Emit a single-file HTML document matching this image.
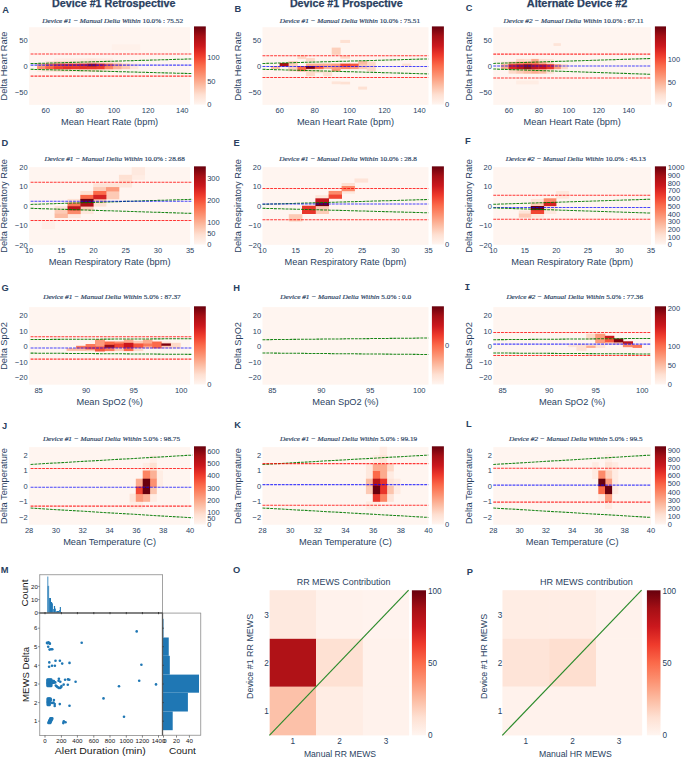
<!DOCTYPE html>
<html><head><meta charset="utf-8"><style>
html,body{margin:0;padding:0;background:#fff;}
svg{display:block;}
</style></head><body>
<svg width="685" height="758" viewBox="0 0 685 758">
<rect x="0.00" y="0.00" width="685.00" height="758.00" fill="#ffffff"/>
<defs><filter id="soft" x="-5%" y="-5%" width="110%" height="110%"><feGaussianBlur stdDeviation="0.35"/></filter></defs>
<text x="113.80" y="6.90" font-size="10.00" text-anchor="middle" font-weight="bold" font-style="normal" fill="#2a3f5f" font-family='"Liberation Sans", sans-serif' textLength="123.40" lengthAdjust="spacingAndGlyphs" stroke="#2a3f5f" stroke-width="0.25">Device #1 Retrospective</text>
<text x="346.30" y="6.90" font-size="10.00" text-anchor="middle" font-weight="bold" font-style="normal" fill="#2a3f5f" font-family='"Liberation Sans", sans-serif' textLength="112.80" lengthAdjust="spacingAndGlyphs" stroke="#2a3f5f" stroke-width="0.25">Device #1 Prospective</text>
<text x="577.10" y="6.90" font-size="10.00" text-anchor="middle" font-weight="bold" font-style="normal" fill="#2a3f5f" font-family='"Liberation Sans", sans-serif' textLength="100.50" lengthAdjust="spacingAndGlyphs" stroke="#2a3f5f" stroke-width="0.25">Alternate Device #2</text>
<text x="2.20" y="12.60" font-size="9.30" text-anchor="start" font-weight="bold" font-style="normal" fill="#2a3f5f" font-family='"Liberation Sans", sans-serif'>A</text>
<text x="42.30" y="23.00" font-size="7.10" text-anchor="start" font-weight="normal" font-style="normal" fill="#2a3f5f" font-family='"Liberation Serif", serif' textLength="140.70" lengthAdjust="spacingAndGlyphs" stroke="#2a3f5f" stroke-width="0.18"><tspan font-style="italic">Device #1 − Manual Delta Within</tspan> 10.0% : 75.52</text>
<rect x="29.10" y="27.20" width="161.00" height="77.70" fill="rgb(255,245,240)"/>
<g filter="url(#soft)">
<rect x="111.80" y="44.30" width="28.40" height="5.90" fill="rgb(255,241,234)"/>
<rect x="53.90" y="58.40" width="8.80" height="3.00" fill="rgb(255,238,230)"/>
<rect x="62.30" y="58.40" width="8.80" height="3.00" fill="rgb(255,237,228)"/>
<rect x="70.70" y="58.40" width="8.80" height="3.00" fill="rgb(255,237,228)"/>
<rect x="104.30" y="58.40" width="8.80" height="3.00" fill="rgb(255,237,228)"/>
<rect x="112.70" y="68.80" width="8.80" height="3.00" fill="rgb(255,237,228)"/>
<rect x="37.10" y="68.80" width="8.80" height="3.00" fill="rgb(255,235,226)"/>
<rect x="79.10" y="58.40" width="8.80" height="3.00" fill="rgb(255,235,226)"/>
<rect x="95.90" y="58.40" width="8.80" height="3.00" fill="rgb(255,235,226)"/>
<rect x="87.50" y="58.40" width="8.80" height="3.00" fill="rgb(254,232,221)"/>
<rect x="104.30" y="68.80" width="8.80" height="3.00" fill="rgb(254,232,221)"/>
<rect x="112.70" y="61.00" width="8.80" height="3.00" fill="rgb(254,232,221)"/>
<rect x="129.50" y="63.60" width="8.80" height="3.00" fill="rgb(254,232,221)"/>
<rect x="129.50" y="66.20" width="8.80" height="3.00" fill="rgb(254,232,221)"/>
<rect x="45.50" y="61.00" width="8.80" height="3.00" fill="rgb(254,228,216)"/>
<rect x="45.50" y="68.80" width="8.80" height="3.00" fill="rgb(254,228,216)"/>
<rect x="70.70" y="61.00" width="8.80" height="3.00" fill="rgb(254,225,211)"/>
<rect x="70.70" y="68.80" width="8.80" height="3.00" fill="rgb(254,225,211)"/>
<rect x="95.90" y="68.80" width="8.80" height="3.00" fill="rgb(254,225,211)"/>
<rect x="104.30" y="61.00" width="8.80" height="3.00" fill="rgb(254,225,211)"/>
<rect x="53.90" y="68.80" width="8.80" height="3.00" fill="rgb(254,220,204)"/>
<rect x="62.30" y="68.80" width="8.80" height="3.00" fill="rgb(254,220,204)"/>
<rect x="79.10" y="68.80" width="8.80" height="3.00" fill="rgb(254,220,204)"/>
<rect x="53.90" y="61.00" width="8.80" height="3.00" fill="rgb(254,217,200)"/>
<rect x="62.30" y="61.00" width="8.80" height="3.00" fill="rgb(254,217,200)"/>
<rect x="79.10" y="61.00" width="8.80" height="3.00" fill="rgb(254,217,200)"/>
<rect x="95.90" y="61.00" width="8.80" height="3.00" fill="rgb(254,217,200)"/>
<rect x="87.50" y="68.80" width="8.80" height="3.00" fill="rgb(253,214,196)"/>
<rect x="87.50" y="61.00" width="8.80" height="3.00" fill="rgb(253,202,181)"/>
<rect x="121.10" y="63.60" width="8.80" height="3.00" fill="rgb(253,202,181)"/>
<rect x="121.10" y="66.20" width="8.80" height="3.00" fill="rgb(253,202,181)"/>
<rect x="112.70" y="66.20" width="8.80" height="3.00" fill="rgb(252,177,150)"/>
<rect x="37.10" y="63.60" width="8.80" height="3.00" fill="rgb(252,171,142)"/>
<rect x="112.70" y="63.60" width="8.80" height="3.00" fill="rgb(252,164,135)"/>
<rect x="37.10" y="66.20" width="8.80" height="3.00" fill="rgb(252,144,112)"/>
<rect x="104.30" y="66.20" width="8.80" height="3.00" fill="rgb(252,132,100)"/>
<rect x="45.50" y="63.60" width="8.80" height="3.00" fill="rgb(251,106,74)"/>
<rect x="104.30" y="63.60" width="8.80" height="3.00" fill="rgb(251,106,74)"/>
<rect x="45.50" y="66.20" width="8.80" height="3.00" fill="rgb(249,98,69)"/>
<rect x="53.90" y="63.60" width="8.80" height="3.00" fill="rgb(241,68,50)"/>
<rect x="53.90" y="66.20" width="8.80" height="3.00" fill="rgb(239,61,45)"/>
<rect x="95.90" y="66.20" width="8.80" height="3.00" fill="rgb(239,61,45)"/>
<rect x="70.70" y="66.20" width="8.80" height="3.00" fill="rgb(235,55,42)"/>
<rect x="87.50" y="66.20" width="8.80" height="3.00" fill="rgb(235,55,42)"/>
<rect x="62.30" y="63.60" width="8.80" height="3.00" fill="rgb(232,52,41)"/>
<rect x="62.30" y="66.20" width="8.80" height="3.00" fill="rgb(229,49,40)"/>
<rect x="70.70" y="63.60" width="8.80" height="3.00" fill="rgb(229,49,40)"/>
<rect x="79.10" y="66.20" width="8.80" height="3.00" fill="rgb(229,49,40)"/>
<rect x="79.10" y="63.60" width="8.80" height="3.00" fill="rgb(217,38,35)"/>
<rect x="95.90" y="63.60" width="8.80" height="3.00" fill="rgb(217,38,35)"/>
<rect x="87.50" y="63.60" width="8.80" height="3.00" fill="rgb(163,14,21)"/>
</g>
<line x1="30.60" y1="54.00" x2="192.30" y2="54.00" stroke="#ff0000" stroke-width="1.05" stroke-dasharray="2.9,0.95" stroke-opacity="0.78"/>
<line x1="30.60" y1="63.60" x2="192.30" y2="58.90" stroke="#007a00" stroke-width="1.05" stroke-dasharray="2.9,0.95" stroke-opacity="0.90"/>
<line x1="30.60" y1="65.10" x2="192.30" y2="65.10" stroke="#0000ff" stroke-width="1.05" stroke-dasharray="2.9,0.95" stroke-opacity="0.72"/>
<line x1="30.60" y1="69.30" x2="192.30" y2="73.60" stroke="#007a00" stroke-width="1.05" stroke-dasharray="2.9,0.95" stroke-opacity="0.90"/>
<line x1="30.60" y1="76.10" x2="192.30" y2="76.10" stroke="#ff0000" stroke-width="1.05" stroke-dasharray="2.9,0.95" stroke-opacity="0.78"/>
<defs><linearGradient id="g00" x1="0" y1="1" x2="0" y2="0"><stop offset="0.000" stop-color="rgb(255,245,240)"/><stop offset="0.125" stop-color="rgb(254,224,210)"/><stop offset="0.250" stop-color="rgb(252,187,161)"/><stop offset="0.375" stop-color="rgb(252,146,114)"/><stop offset="0.500" stop-color="rgb(251,106,74)"/><stop offset="0.625" stop-color="rgb(239,59,44)"/><stop offset="0.750" stop-color="rgb(203,24,29)"/><stop offset="0.875" stop-color="rgb(165,15,21)"/><stop offset="1.000" stop-color="rgb(103,0,13)"/></linearGradient></defs>
<rect x="194.00" y="26.40" width="11.80" height="78.25" fill="url(#g00)"/>
<text x="207.20" y="60.03" font-size="8.10" text-anchor="start" font-weight="normal" font-style="normal" fill="#2a3f5f" font-family='"Liberation Sans", sans-serif' textLength="12.51" lengthAdjust="spacingAndGlyphs">100</text>
<text x="207.20" y="83.74" font-size="8.10" text-anchor="start" font-weight="normal" font-style="normal" fill="#2a3f5f" font-family='"Liberation Sans", sans-serif' textLength="8.34" lengthAdjust="spacingAndGlyphs">50</text>
<text x="207.20" y="107.45" font-size="8.10" text-anchor="start" font-weight="normal" font-style="normal" fill="#2a3f5f" font-family='"Liberation Sans", sans-serif' textLength="4.17" lengthAdjust="spacingAndGlyphs">0</text>
<text x="45.66" y="112.90" font-size="8.10" text-anchor="middle" font-weight="normal" font-style="normal" fill="#2a3f5f" font-family='"Liberation Sans", sans-serif' textLength="8.34" lengthAdjust="spacingAndGlyphs">60</text>
<text x="79.81" y="112.90" font-size="8.10" text-anchor="middle" font-weight="normal" font-style="normal" fill="#2a3f5f" font-family='"Liberation Sans", sans-serif' textLength="8.34" lengthAdjust="spacingAndGlyphs">80</text>
<text x="113.95" y="112.90" font-size="8.10" text-anchor="middle" font-weight="normal" font-style="normal" fill="#2a3f5f" font-family='"Liberation Sans", sans-serif' textLength="12.51" lengthAdjust="spacingAndGlyphs">100</text>
<text x="148.10" y="112.90" font-size="8.10" text-anchor="middle" font-weight="normal" font-style="normal" fill="#2a3f5f" font-family='"Liberation Sans", sans-serif' textLength="12.51" lengthAdjust="spacingAndGlyphs">120</text>
<text x="182.25" y="112.90" font-size="8.10" text-anchor="middle" font-weight="normal" font-style="normal" fill="#2a3f5f" font-family='"Liberation Sans", sans-serif' textLength="12.51" lengthAdjust="spacingAndGlyphs">140</text>
<text x="27.70" y="43.37" font-size="8.10" text-anchor="end" font-weight="normal" font-style="normal" fill="#2a3f5f" font-family='"Liberation Sans", sans-serif' textLength="8.34" lengthAdjust="spacingAndGlyphs">50</text>
<text x="27.70" y="69.29" font-size="8.10" text-anchor="end" font-weight="normal" font-style="normal" fill="#2a3f5f" font-family='"Liberation Sans", sans-serif' textLength="4.17" lengthAdjust="spacingAndGlyphs">0</text>
<text x="27.70" y="95.21" font-size="8.10" text-anchor="end" font-weight="normal" font-style="normal" fill="#2a3f5f" font-family='"Liberation Sans", sans-serif' textLength="12.72" lengthAdjust="spacingAndGlyphs">−50</text>
<text x="109.60" y="124.70" font-size="9.25" text-anchor="middle" font-weight="normal" font-style="normal" fill="#2a3f5f" font-family='"Liberation Sans", sans-serif'>Mean Heart Rate (bpm)</text>
<text x="0" y="0" transform="translate(7.30,66.05) rotate(-90)" font-size="9.25" text-anchor="middle" font-weight="normal" fill="#2a3f5f" font-family='"Liberation Sans", sans-serif'>Delta Heart Rate</text>
<text x="234.40" y="11.80" font-size="9.30" text-anchor="start" font-weight="bold" font-style="normal" fill="#2a3f5f" font-family='"Liberation Sans", sans-serif'>B</text>
<text x="279.80" y="23.00" font-size="7.10" text-anchor="start" font-weight="normal" font-style="normal" fill="#2a3f5f" font-family='"Liberation Serif", serif' textLength="140.20" lengthAdjust="spacingAndGlyphs" stroke="#2a3f5f" stroke-width="0.18"><tspan font-style="italic">Device #1 − Manual Delta Within</tspan> 10.0% : 75.51</text>
<rect x="262.50" y="27.20" width="166.00" height="77.70" fill="rgb(255,245,240)"/>
<g filter="url(#soft)">
<rect x="331.70" y="81.40" width="9.00" height="2.80" fill="rgb(254,228,216)"/>
<rect x="314.50" y="68.50" width="9.00" height="4.70" fill="rgb(254,225,211)"/>
<rect x="323.10" y="70.90" width="9.00" height="5.30" fill="rgb(254,225,211)"/>
<rect x="340.30" y="39.90" width="9.80" height="3.10" fill="rgb(254,225,211)"/>
<rect x="340.30" y="81.70" width="9.80" height="2.70" fill="rgb(254,225,211)"/>
<rect x="358.20" y="86.60" width="8.90" height="3.00" fill="rgb(254,225,211)"/>
<rect x="402.20" y="63.60" width="9.00" height="2.40" fill="rgb(254,225,211)"/>
<rect x="297.40" y="55.00" width="8.90" height="4.10" fill="rgb(254,217,200)"/>
<rect x="305.90" y="58.10" width="9.00" height="3.40" fill="rgb(254,217,200)"/>
<rect x="305.90" y="68.50" width="9.00" height="7.70" fill="rgb(254,217,200)"/>
<rect x="340.30" y="55.70" width="9.80" height="3.00" fill="rgb(254,217,200)"/>
<rect x="366.70" y="61.60" width="9.00" height="9.60" fill="rgb(254,217,200)"/>
<rect x="288.20" y="61.10" width="9.60" height="10.20" fill="rgb(253,208,188)"/>
<rect x="331.70" y="47.60" width="9.00" height="7.20" fill="rgb(253,208,188)"/>
<rect x="358.20" y="64.20" width="8.90" height="5.00" fill="rgb(253,202,181)"/>
<rect x="271.00" y="66.00" width="9.00" height="2.90" fill="rgb(252,187,161)"/>
<rect x="358.20" y="61.00" width="8.90" height="3.60" fill="rgb(252,187,161)"/>
<rect x="305.90" y="63.60" width="9.00" height="2.80" fill="rgb(252,171,142)"/>
<rect x="314.50" y="63.60" width="9.00" height="2.80" fill="rgb(252,171,142)"/>
<rect x="323.10" y="63.60" width="9.00" height="5.30" fill="rgb(252,171,142)"/>
<rect x="331.70" y="63.60" width="9.00" height="7.70" fill="rgb(252,154,123)"/>
<rect x="349.70" y="66.20" width="8.90" height="2.90" fill="rgb(252,154,123)"/>
<rect x="340.30" y="66.20" width="9.80" height="2.90" fill="rgb(252,138,106)"/>
<rect x="297.40" y="66.00" width="8.90" height="5.30" fill="rgb(251,106,74)"/>
<rect x="314.50" y="66.00" width="9.00" height="2.90" fill="rgb(246,87,62)"/>
<rect x="349.70" y="63.60" width="8.90" height="3.00" fill="rgb(246,87,62)"/>
<rect x="340.30" y="63.60" width="9.80" height="3.00" fill="rgb(241,68,50)"/>
<rect x="279.60" y="63.00" width="9.00" height="3.40" fill="rgb(173,17,23)"/>
<rect x="305.90" y="66.00" width="9.00" height="2.90" fill="rgb(128,6,16)"/>
</g>
<line x1="262.50" y1="55.70" x2="428.30" y2="55.70" stroke="#ff0000" stroke-width="1.05" stroke-dasharray="2.9,0.95" stroke-opacity="0.78"/>
<line x1="262.50" y1="63.50" x2="428.30" y2="58.90" stroke="#007a00" stroke-width="1.05" stroke-dasharray="2.9,0.95" stroke-opacity="0.90"/>
<line x1="262.50" y1="66.45" x2="428.30" y2="66.45" stroke="#0000ff" stroke-width="1.05" stroke-dasharray="2.9,0.95" stroke-opacity="0.72"/>
<line x1="262.50" y1="69.30" x2="428.30" y2="73.90" stroke="#007a00" stroke-width="1.05" stroke-dasharray="2.9,0.95" stroke-opacity="0.90"/>
<line x1="262.50" y1="77.40" x2="428.30" y2="77.40" stroke="#ff0000" stroke-width="1.05" stroke-dasharray="2.9,0.95" stroke-opacity="0.78"/>
<defs><linearGradient id="g01" x1="0" y1="1" x2="0" y2="0"><stop offset="0.000" stop-color="rgb(255,245,240)"/><stop offset="0.125" stop-color="rgb(254,224,210)"/><stop offset="0.250" stop-color="rgb(252,187,161)"/><stop offset="0.375" stop-color="rgb(252,146,114)"/><stop offset="0.500" stop-color="rgb(251,106,74)"/><stop offset="0.625" stop-color="rgb(239,59,44)"/><stop offset="0.750" stop-color="rgb(203,24,29)"/><stop offset="0.875" stop-color="rgb(165,15,21)"/><stop offset="1.000" stop-color="rgb(103,0,13)"/></linearGradient></defs>
<rect x="431.90" y="26.40" width="12.00" height="78.25" fill="url(#g01)"/>
<text x="444.90" y="107.45" font-size="8.10" text-anchor="start" font-weight="normal" font-style="normal" fill="#2a3f5f" font-family='"Liberation Sans", sans-serif' textLength="4.17" lengthAdjust="spacingAndGlyphs">0</text>
<text x="279.78" y="112.90" font-size="8.10" text-anchor="middle" font-weight="normal" font-style="normal" fill="#2a3f5f" font-family='"Liberation Sans", sans-serif' textLength="8.34" lengthAdjust="spacingAndGlyphs">60</text>
<text x="314.69" y="112.90" font-size="8.10" text-anchor="middle" font-weight="normal" font-style="normal" fill="#2a3f5f" font-family='"Liberation Sans", sans-serif' textLength="8.34" lengthAdjust="spacingAndGlyphs">80</text>
<text x="349.60" y="112.90" font-size="8.10" text-anchor="middle" font-weight="normal" font-style="normal" fill="#2a3f5f" font-family='"Liberation Sans", sans-serif' textLength="12.51" lengthAdjust="spacingAndGlyphs">100</text>
<text x="384.51" y="112.90" font-size="8.10" text-anchor="middle" font-weight="normal" font-style="normal" fill="#2a3f5f" font-family='"Liberation Sans", sans-serif' textLength="12.51" lengthAdjust="spacingAndGlyphs">120</text>
<text x="419.42" y="112.90" font-size="8.10" text-anchor="middle" font-weight="normal" font-style="normal" fill="#2a3f5f" font-family='"Liberation Sans", sans-serif' textLength="12.51" lengthAdjust="spacingAndGlyphs">140</text>
<text x="261.10" y="43.37" font-size="8.10" text-anchor="end" font-weight="normal" font-style="normal" fill="#2a3f5f" font-family='"Liberation Sans", sans-serif' textLength="8.34" lengthAdjust="spacingAndGlyphs">50</text>
<text x="261.10" y="69.29" font-size="8.10" text-anchor="end" font-weight="normal" font-style="normal" fill="#2a3f5f" font-family='"Liberation Sans", sans-serif' textLength="4.17" lengthAdjust="spacingAndGlyphs">0</text>
<text x="261.10" y="95.21" font-size="8.10" text-anchor="end" font-weight="normal" font-style="normal" fill="#2a3f5f" font-family='"Liberation Sans", sans-serif' textLength="12.72" lengthAdjust="spacingAndGlyphs">−50</text>
<text x="345.50" y="124.70" font-size="9.25" text-anchor="middle" font-weight="normal" font-style="normal" fill="#2a3f5f" font-family='"Liberation Sans", sans-serif'>Mean Heart Rate (bpm)</text>
<text x="0" y="0" transform="translate(240.60,66.05) rotate(-90)" font-size="9.25" text-anchor="middle" font-weight="normal" fill="#2a3f5f" font-family='"Liberation Sans", sans-serif'>Delta Heart Rate</text>
<text x="465.80" y="11.00" font-size="9.30" text-anchor="start" font-weight="bold" font-style="normal" fill="#2a3f5f" font-family='"Liberation Sans", sans-serif'>C</text>
<text x="503.60" y="23.00" font-size="7.10" text-anchor="start" font-weight="normal" font-style="normal" fill="#2a3f5f" font-family='"Liberation Serif", serif' textLength="140.10" lengthAdjust="spacingAndGlyphs" stroke="#2a3f5f" stroke-width="0.18"><tspan font-style="italic">Device #2 − Manual Delta Within</tspan> 10.0% : 67.11</text>
<rect x="493.30" y="27.20" width="157.70" height="77.70" fill="rgb(255,245,240)"/>
<g filter="url(#soft)">
<rect x="516.20" y="80.50" width="22.50" height="3.90" fill="rgb(255,237,228)"/>
<rect x="545.90" y="58.90" width="8.00" height="3.30" fill="rgb(254,232,221)"/>
<rect x="538.30" y="58.90" width="8.00" height="3.30" fill="rgb(254,228,216)"/>
<rect x="553.50" y="43.20" width="7.40" height="2.70" fill="rgb(254,228,216)"/>
<rect x="501.00" y="61.80" width="8.00" height="2.80" fill="rgb(254,225,211)"/>
<rect x="523.80" y="58.90" width="7.90" height="3.30" fill="rgb(254,225,211)"/>
<rect x="545.90" y="68.80" width="8.00" height="4.90" fill="rgb(254,225,211)"/>
<rect x="508.60" y="68.80" width="8.00" height="4.90" fill="rgb(254,217,200)"/>
<rect x="516.20" y="58.90" width="8.00" height="3.30" fill="rgb(254,217,200)"/>
<rect x="545.90" y="61.80" width="8.00" height="2.80" fill="rgb(254,217,200)"/>
<rect x="560.50" y="64.20" width="7.40" height="5.00" fill="rgb(254,217,200)"/>
<rect x="516.20" y="68.80" width="8.00" height="4.90" fill="rgb(253,202,181)"/>
<rect x="523.80" y="68.80" width="7.90" height="4.90" fill="rgb(252,187,161)"/>
<rect x="538.30" y="68.80" width="8.00" height="4.90" fill="rgb(252,187,161)"/>
<rect x="501.00" y="64.20" width="8.00" height="5.00" fill="rgb(252,171,142)"/>
<rect x="508.60" y="61.80" width="8.00" height="2.80" fill="rgb(252,171,142)"/>
<rect x="531.30" y="58.90" width="7.40" height="3.30" fill="rgb(252,171,142)"/>
<rect x="531.30" y="68.80" width="7.40" height="4.90" fill="rgb(252,171,142)"/>
<rect x="538.30" y="61.80" width="8.00" height="2.80" fill="rgb(252,171,142)"/>
<rect x="553.50" y="64.20" width="7.40" height="5.00" fill="rgb(252,154,123)"/>
<rect x="516.20" y="61.80" width="8.00" height="2.80" fill="rgb(252,138,106)"/>
<rect x="523.80" y="61.80" width="7.90" height="2.80" fill="rgb(251,122,90)"/>
<rect x="531.30" y="61.80" width="7.40" height="2.80" fill="rgb(251,122,90)"/>
<rect x="545.90" y="64.20" width="8.00" height="5.00" fill="rgb(232,52,41)"/>
<rect x="508.60" y="64.20" width="8.00" height="5.00" fill="rgb(217,38,35)"/>
<rect x="538.30" y="64.20" width="8.00" height="5.00" fill="rgb(203,24,29)"/>
<rect x="531.30" y="64.20" width="7.40" height="5.00" fill="rgb(194,22,27)"/>
<rect x="516.20" y="64.20" width="8.00" height="5.00" fill="rgb(188,20,26)"/>
<rect x="523.80" y="64.20" width="7.90" height="5.00" fill="rgb(143,10,18)"/>
</g>
<line x1="493.30" y1="54.10" x2="651.00" y2="54.10" stroke="#ff0000" stroke-width="1.05" stroke-dasharray="2.9,0.95" stroke-opacity="0.78"/>
<line x1="493.30" y1="63.40" x2="651.00" y2="58.50" stroke="#007a00" stroke-width="1.05" stroke-dasharray="2.9,0.95" stroke-opacity="0.90"/>
<line x1="493.30" y1="66.05" x2="651.00" y2="66.05" stroke="#0000ff" stroke-width="1.05" stroke-dasharray="2.9,0.95" stroke-opacity="0.72"/>
<line x1="493.30" y1="69.00" x2="651.00" y2="74.30" stroke="#007a00" stroke-width="1.05" stroke-dasharray="2.9,0.95" stroke-opacity="0.90"/>
<line x1="493.30" y1="78.00" x2="651.00" y2="78.00" stroke="#ff0000" stroke-width="1.05" stroke-dasharray="2.9,0.95" stroke-opacity="0.78"/>
<defs><linearGradient id="g02" x1="0" y1="1" x2="0" y2="0"><stop offset="0.000" stop-color="rgb(255,245,240)"/><stop offset="0.125" stop-color="rgb(254,224,210)"/><stop offset="0.250" stop-color="rgb(252,187,161)"/><stop offset="0.375" stop-color="rgb(252,146,114)"/><stop offset="0.500" stop-color="rgb(251,106,74)"/><stop offset="0.625" stop-color="rgb(239,59,44)"/><stop offset="0.750" stop-color="rgb(203,24,29)"/><stop offset="0.875" stop-color="rgb(165,15,21)"/><stop offset="1.000" stop-color="rgb(103,0,13)"/></linearGradient></defs>
<rect x="654.90" y="26.40" width="11.10" height="78.25" fill="url(#g02)"/>
<text x="667.70" y="61.96" font-size="8.10" text-anchor="start" font-weight="normal" font-style="normal" fill="#2a3f5f" font-family='"Liberation Sans", sans-serif' textLength="12.51" lengthAdjust="spacingAndGlyphs">100</text>
<text x="667.70" y="84.70" font-size="8.10" text-anchor="start" font-weight="normal" font-style="normal" fill="#2a3f5f" font-family='"Liberation Sans", sans-serif' textLength="8.34" lengthAdjust="spacingAndGlyphs">50</text>
<text x="667.70" y="107.45" font-size="8.10" text-anchor="start" font-weight="normal" font-style="normal" fill="#2a3f5f" font-family='"Liberation Sans", sans-serif' textLength="4.17" lengthAdjust="spacingAndGlyphs">0</text>
<text x="509.01" y="112.90" font-size="8.10" text-anchor="middle" font-weight="normal" font-style="normal" fill="#2a3f5f" font-family='"Liberation Sans", sans-serif' textLength="8.34" lengthAdjust="spacingAndGlyphs">60</text>
<text x="538.93" y="112.90" font-size="8.10" text-anchor="middle" font-weight="normal" font-style="normal" fill="#2a3f5f" font-family='"Liberation Sans", sans-serif' textLength="8.34" lengthAdjust="spacingAndGlyphs">80</text>
<text x="568.86" y="112.90" font-size="8.10" text-anchor="middle" font-weight="normal" font-style="normal" fill="#2a3f5f" font-family='"Liberation Sans", sans-serif' textLength="12.51" lengthAdjust="spacingAndGlyphs">100</text>
<text x="598.78" y="112.90" font-size="8.10" text-anchor="middle" font-weight="normal" font-style="normal" fill="#2a3f5f" font-family='"Liberation Sans", sans-serif' textLength="12.51" lengthAdjust="spacingAndGlyphs">120</text>
<text x="628.71" y="112.90" font-size="8.10" text-anchor="middle" font-weight="normal" font-style="normal" fill="#2a3f5f" font-family='"Liberation Sans", sans-serif' textLength="12.51" lengthAdjust="spacingAndGlyphs">140</text>
<text x="491.90" y="43.37" font-size="8.10" text-anchor="end" font-weight="normal" font-style="normal" fill="#2a3f5f" font-family='"Liberation Sans", sans-serif' textLength="8.34" lengthAdjust="spacingAndGlyphs">50</text>
<text x="491.90" y="69.29" font-size="8.10" text-anchor="end" font-weight="normal" font-style="normal" fill="#2a3f5f" font-family='"Liberation Sans", sans-serif' textLength="4.17" lengthAdjust="spacingAndGlyphs">0</text>
<text x="491.90" y="95.21" font-size="8.10" text-anchor="end" font-weight="normal" font-style="normal" fill="#2a3f5f" font-family='"Liberation Sans", sans-serif' textLength="12.72" lengthAdjust="spacingAndGlyphs">−50</text>
<text x="572.15" y="124.70" font-size="9.25" text-anchor="middle" font-weight="normal" font-style="normal" fill="#2a3f5f" font-family='"Liberation Sans", sans-serif'>Mean Heart Rate (bpm)</text>
<text x="0" y="0" transform="translate(471.50,66.05) rotate(-90)" font-size="9.25" text-anchor="middle" font-weight="normal" fill="#2a3f5f" font-family='"Liberation Sans", sans-serif'>Delta Heart Rate</text>
<text x="1.60" y="146.00" font-size="9.30" text-anchor="start" font-weight="bold" font-style="normal" fill="#2a3f5f" font-family='"Liberation Sans", sans-serif'>D</text>
<text x="44.40" y="161.00" font-size="7.10" text-anchor="start" font-weight="normal" font-style="normal" fill="#2a3f5f" font-family='"Liberation Serif", serif' textLength="140.40" lengthAdjust="spacingAndGlyphs" stroke="#2a3f5f" stroke-width="0.18"><tspan font-style="italic">Device #1 − Manual Delta Within</tspan> 10.0% : 28.68</text>
<rect x="29.10" y="167.15" width="161.00" height="77.70" fill="rgb(255,245,240)"/>
<g filter="url(#soft)">
<rect x="41.80" y="220.30" width="13.20" height="8.90" fill="rgb(255,239,232)"/>
<rect x="131.70" y="174.80" width="13.30" height="5.00" fill="rgb(255,237,228)"/>
<rect x="131.70" y="167.20" width="13.30" height="8.00" fill="rgb(254,233,223)"/>
<rect x="67.50" y="213.70" width="13.20" height="4.30" fill="rgb(254,232,221)"/>
<rect x="80.30" y="209.90" width="13.30" height="4.20" fill="rgb(254,232,221)"/>
<rect x="118.90" y="183.30" width="13.20" height="4.20" fill="rgb(254,232,221)"/>
<rect x="54.60" y="206.20" width="13.30" height="4.10" fill="rgb(254,228,216)"/>
<rect x="93.20" y="183.30" width="13.20" height="4.20" fill="rgb(254,228,216)"/>
<rect x="106.00" y="183.30" width="13.30" height="4.20" fill="rgb(254,228,216)"/>
<rect x="67.50" y="198.90" width="13.20" height="4.10" fill="rgb(254,225,211)"/>
<rect x="80.30" y="191.00" width="13.30" height="4.30" fill="rgb(254,225,211)"/>
<rect x="93.20" y="202.60" width="13.20" height="4.00" fill="rgb(254,225,211)"/>
<rect x="118.90" y="174.80" width="13.20" height="5.00" fill="rgb(254,225,211)"/>
<rect x="118.90" y="179.40" width="13.20" height="4.30" fill="rgb(254,225,211)"/>
<rect x="54.60" y="209.90" width="13.30" height="4.20" fill="rgb(253,202,181)"/>
<rect x="80.30" y="206.20" width="13.30" height="4.10" fill="rgb(253,202,181)"/>
<rect x="93.20" y="187.10" width="13.20" height="4.30" fill="rgb(253,202,181)"/>
<rect x="93.20" y="198.90" width="13.20" height="4.10" fill="rgb(253,202,181)"/>
<rect x="106.00" y="191.00" width="13.30" height="4.30" fill="rgb(253,202,181)"/>
<rect x="106.00" y="194.90" width="13.30" height="4.40" fill="rgb(253,202,181)"/>
<rect x="54.60" y="213.70" width="13.30" height="4.30" fill="rgb(252,187,161)"/>
<rect x="106.00" y="187.10" width="13.30" height="4.30" fill="rgb(252,154,123)"/>
<rect x="67.50" y="209.90" width="13.20" height="4.20" fill="rgb(252,138,106)"/>
<rect x="67.50" y="202.60" width="13.20" height="4.00" fill="rgb(251,122,90)"/>
<rect x="80.30" y="194.90" width="13.30" height="4.40" fill="rgb(251,106,74)"/>
<rect x="93.20" y="191.00" width="13.20" height="4.30" fill="rgb(251,106,74)"/>
<rect x="93.20" y="194.90" width="13.20" height="4.40" fill="rgb(212,32,33)"/>
<rect x="67.50" y="206.20" width="13.20" height="4.10" fill="rgb(188,20,26)"/>
<rect x="80.30" y="202.60" width="13.30" height="4.00" fill="rgb(173,17,23)"/>
<rect x="80.30" y="198.90" width="13.30" height="4.10" fill="rgb(113,2,14)"/>
</g>
<line x1="30.60" y1="182.30" x2="192.30" y2="182.30" stroke="#ff0000" stroke-width="1.05" stroke-dasharray="2.9,0.95" stroke-opacity="0.78"/>
<line x1="30.60" y1="204.40" x2="192.30" y2="199.30" stroke="#007a00" stroke-width="1.05" stroke-dasharray="2.9,0.95" stroke-opacity="0.90"/>
<line x1="30.60" y1="201.30" x2="192.30" y2="201.30" stroke="#0000ff" stroke-width="1.05" stroke-dasharray="2.9,0.95" stroke-opacity="0.72"/>
<line x1="30.60" y1="208.30" x2="192.30" y2="213.40" stroke="#007a00" stroke-width="1.05" stroke-dasharray="2.9,0.95" stroke-opacity="0.90"/>
<line x1="30.60" y1="220.40" x2="192.30" y2="220.40" stroke="#ff0000" stroke-width="1.05" stroke-dasharray="2.9,0.95" stroke-opacity="0.78"/>
<defs><linearGradient id="g10" x1="0" y1="1" x2="0" y2="0"><stop offset="0.000" stop-color="rgb(255,245,240)"/><stop offset="0.125" stop-color="rgb(254,224,210)"/><stop offset="0.250" stop-color="rgb(252,187,161)"/><stop offset="0.375" stop-color="rgb(252,146,114)"/><stop offset="0.500" stop-color="rgb(251,106,74)"/><stop offset="0.625" stop-color="rgb(239,59,44)"/><stop offset="0.750" stop-color="rgb(203,24,29)"/><stop offset="0.875" stop-color="rgb(165,15,21)"/><stop offset="1.000" stop-color="rgb(103,0,13)"/></linearGradient></defs>
<rect x="194.00" y="166.35" width="11.80" height="78.25" fill="url(#g10)"/>
<text x="207.20" y="181.46" font-size="8.10" text-anchor="start" font-weight="normal" font-style="normal" fill="#2a3f5f" font-family='"Liberation Sans", sans-serif' textLength="12.51" lengthAdjust="spacingAndGlyphs">300</text>
<text x="207.20" y="203.44" font-size="8.10" text-anchor="start" font-weight="normal" font-style="normal" fill="#2a3f5f" font-family='"Liberation Sans", sans-serif' textLength="12.51" lengthAdjust="spacingAndGlyphs">200</text>
<text x="207.20" y="225.42" font-size="8.10" text-anchor="start" font-weight="normal" font-style="normal" fill="#2a3f5f" font-family='"Liberation Sans", sans-serif' textLength="12.51" lengthAdjust="spacingAndGlyphs">100</text>
<text x="207.20" y="236.41" font-size="8.10" text-anchor="start" font-weight="normal" font-style="normal" fill="#2a3f5f" font-family='"Liberation Sans", sans-serif' textLength="8.34" lengthAdjust="spacingAndGlyphs">50</text>
<text x="207.20" y="247.40" font-size="8.10" text-anchor="start" font-weight="normal" font-style="normal" fill="#2a3f5f" font-family='"Liberation Sans", sans-serif' textLength="4.17" lengthAdjust="spacingAndGlyphs">0</text>
<text x="29.10" y="252.85" font-size="8.10" text-anchor="middle" font-weight="normal" font-style="normal" fill="#2a3f5f" font-family='"Liberation Sans", sans-serif' textLength="8.34" lengthAdjust="spacingAndGlyphs">10</text>
<text x="61.30" y="252.85" font-size="8.10" text-anchor="middle" font-weight="normal" font-style="normal" fill="#2a3f5f" font-family='"Liberation Sans", sans-serif' textLength="8.34" lengthAdjust="spacingAndGlyphs">15</text>
<text x="93.50" y="252.85" font-size="8.10" text-anchor="middle" font-weight="normal" font-style="normal" fill="#2a3f5f" font-family='"Liberation Sans", sans-serif' textLength="8.34" lengthAdjust="spacingAndGlyphs">20</text>
<text x="125.70" y="252.85" font-size="8.10" text-anchor="middle" font-weight="normal" font-style="normal" fill="#2a3f5f" font-family='"Liberation Sans", sans-serif' textLength="8.34" lengthAdjust="spacingAndGlyphs">25</text>
<text x="157.90" y="252.85" font-size="8.10" text-anchor="middle" font-weight="normal" font-style="normal" fill="#2a3f5f" font-family='"Liberation Sans", sans-serif' textLength="8.34" lengthAdjust="spacingAndGlyphs">30</text>
<text x="190.10" y="252.85" font-size="8.10" text-anchor="middle" font-weight="normal" font-style="normal" fill="#2a3f5f" font-family='"Liberation Sans", sans-serif' textLength="8.34" lengthAdjust="spacingAndGlyphs">35</text>
<text x="27.70" y="169.95" font-size="8.10" text-anchor="end" font-weight="normal" font-style="normal" fill="#2a3f5f" font-family='"Liberation Sans", sans-serif' textLength="8.34" lengthAdjust="spacingAndGlyphs">20</text>
<text x="27.70" y="189.38" font-size="8.10" text-anchor="end" font-weight="normal" font-style="normal" fill="#2a3f5f" font-family='"Liberation Sans", sans-serif' textLength="8.34" lengthAdjust="spacingAndGlyphs">10</text>
<text x="27.70" y="208.80" font-size="8.10" text-anchor="end" font-weight="normal" font-style="normal" fill="#2a3f5f" font-family='"Liberation Sans", sans-serif' textLength="4.17" lengthAdjust="spacingAndGlyphs">0</text>
<text x="27.70" y="228.23" font-size="8.10" text-anchor="end" font-weight="normal" font-style="normal" fill="#2a3f5f" font-family='"Liberation Sans", sans-serif' textLength="12.72" lengthAdjust="spacingAndGlyphs">−10</text>
<text x="27.70" y="247.65" font-size="8.10" text-anchor="end" font-weight="normal" font-style="normal" fill="#2a3f5f" font-family='"Liberation Sans", sans-serif' textLength="12.72" lengthAdjust="spacingAndGlyphs">−20</text>
<text x="109.60" y="264.65" font-size="9.25" text-anchor="middle" font-weight="normal" font-style="normal" fill="#2a3f5f" font-family='"Liberation Sans", sans-serif'>Mean Respiratory Rate (bpm)</text>
<text x="0" y="0" transform="translate(7.30,206.00) rotate(-90)" font-size="9.25" text-anchor="middle" font-weight="normal" fill="#2a3f5f" font-family='"Liberation Sans", sans-serif'>Delta Respiratory Rate</text>
<text x="233.60" y="145.80" font-size="9.30" text-anchor="start" font-weight="bold" font-style="normal" fill="#2a3f5f" font-family='"Liberation Sans", sans-serif'>E</text>
<text x="279.30" y="161.00" font-size="7.10" text-anchor="start" font-weight="normal" font-style="normal" fill="#2a3f5f" font-family='"Liberation Serif", serif' textLength="137.60" lengthAdjust="spacingAndGlyphs" stroke="#2a3f5f" stroke-width="0.18"><tspan font-style="italic">Device #1 − Manual Delta Within</tspan> 10.0% : 28.8</text>
<rect x="262.50" y="167.15" width="166.00" height="77.70" fill="rgb(255,245,240)"/>
<g filter="url(#soft)">
<rect x="341.60" y="190.80" width="13.30" height="2.90" fill="rgb(254,232,221)"/>
<rect x="315.40" y="195.20" width="13.60" height="3.50" fill="rgb(254,228,216)"/>
<rect x="354.50" y="178.50" width="13.70" height="4.10" fill="rgb(254,228,216)"/>
<rect x="341.60" y="183.00" width="13.30" height="3.40" fill="rgb(254,225,211)"/>
<rect x="288.80" y="214.20" width="13.60" height="7.20" fill="rgb(253,202,181)"/>
<rect x="315.40" y="205.70" width="13.60" height="8.30" fill="rgb(253,202,181)"/>
<rect x="328.60" y="190.90" width="13.40" height="4.10" fill="rgb(252,138,106)"/>
<rect x="341.60" y="186.00" width="13.30" height="5.20" fill="rgb(252,138,106)"/>
<rect x="328.60" y="194.60" width="13.40" height="4.20" fill="rgb(241,68,50)"/>
<rect x="302.00" y="205.70" width="13.80" height="8.30" fill="rgb(232,52,41)"/>
<rect x="315.40" y="198.30" width="13.60" height="4.70" fill="rgb(194,22,27)"/>
<rect x="315.40" y="202.60" width="13.60" height="3.50" fill="rgb(118,4,15)"/>
</g>
<line x1="262.50" y1="188.45" x2="428.30" y2="188.45" stroke="#ff0000" stroke-width="1.05" stroke-dasharray="2.9,0.95" stroke-opacity="0.78"/>
<line x1="262.50" y1="204.30" x2="428.30" y2="199.50" stroke="#007a00" stroke-width="1.05" stroke-dasharray="2.9,0.95" stroke-opacity="0.90"/>
<line x1="262.50" y1="203.95" x2="428.30" y2="203.95" stroke="#0000ff" stroke-width="1.05" stroke-dasharray="2.9,0.95" stroke-opacity="0.72"/>
<line x1="262.50" y1="208.30" x2="428.30" y2="212.80" stroke="#007a00" stroke-width="1.05" stroke-dasharray="2.9,0.95" stroke-opacity="0.90"/>
<line x1="262.50" y1="219.75" x2="428.30" y2="219.75" stroke="#ff0000" stroke-width="1.05" stroke-dasharray="2.9,0.95" stroke-opacity="0.78"/>
<defs><linearGradient id="g11" x1="0" y1="1" x2="0" y2="0"><stop offset="0.000" stop-color="rgb(255,245,240)"/><stop offset="0.125" stop-color="rgb(254,224,210)"/><stop offset="0.250" stop-color="rgb(252,187,161)"/><stop offset="0.375" stop-color="rgb(252,146,114)"/><stop offset="0.500" stop-color="rgb(251,106,74)"/><stop offset="0.625" stop-color="rgb(239,59,44)"/><stop offset="0.750" stop-color="rgb(203,24,29)"/><stop offset="0.875" stop-color="rgb(165,15,21)"/><stop offset="1.000" stop-color="rgb(103,0,13)"/></linearGradient></defs>
<rect x="431.90" y="166.35" width="12.00" height="78.25" fill="url(#g11)"/>
<text x="444.90" y="247.40" font-size="8.10" text-anchor="start" font-weight="normal" font-style="normal" fill="#2a3f5f" font-family='"Liberation Sans", sans-serif' textLength="4.17" lengthAdjust="spacingAndGlyphs">0</text>
<text x="262.50" y="252.85" font-size="8.10" text-anchor="middle" font-weight="normal" font-style="normal" fill="#2a3f5f" font-family='"Liberation Sans", sans-serif' textLength="8.34" lengthAdjust="spacingAndGlyphs">10</text>
<text x="295.70" y="252.85" font-size="8.10" text-anchor="middle" font-weight="normal" font-style="normal" fill="#2a3f5f" font-family='"Liberation Sans", sans-serif' textLength="8.34" lengthAdjust="spacingAndGlyphs">15</text>
<text x="328.90" y="252.85" font-size="8.10" text-anchor="middle" font-weight="normal" font-style="normal" fill="#2a3f5f" font-family='"Liberation Sans", sans-serif' textLength="8.34" lengthAdjust="spacingAndGlyphs">20</text>
<text x="362.10" y="252.85" font-size="8.10" text-anchor="middle" font-weight="normal" font-style="normal" fill="#2a3f5f" font-family='"Liberation Sans", sans-serif' textLength="8.34" lengthAdjust="spacingAndGlyphs">25</text>
<text x="395.30" y="252.85" font-size="8.10" text-anchor="middle" font-weight="normal" font-style="normal" fill="#2a3f5f" font-family='"Liberation Sans", sans-serif' textLength="8.34" lengthAdjust="spacingAndGlyphs">30</text>
<text x="428.50" y="252.85" font-size="8.10" text-anchor="middle" font-weight="normal" font-style="normal" fill="#2a3f5f" font-family='"Liberation Sans", sans-serif' textLength="8.34" lengthAdjust="spacingAndGlyphs">35</text>
<text x="261.10" y="169.95" font-size="8.10" text-anchor="end" font-weight="normal" font-style="normal" fill="#2a3f5f" font-family='"Liberation Sans", sans-serif' textLength="8.34" lengthAdjust="spacingAndGlyphs">20</text>
<text x="261.10" y="189.38" font-size="8.10" text-anchor="end" font-weight="normal" font-style="normal" fill="#2a3f5f" font-family='"Liberation Sans", sans-serif' textLength="8.34" lengthAdjust="spacingAndGlyphs">10</text>
<text x="261.10" y="208.80" font-size="8.10" text-anchor="end" font-weight="normal" font-style="normal" fill="#2a3f5f" font-family='"Liberation Sans", sans-serif' textLength="4.17" lengthAdjust="spacingAndGlyphs">0</text>
<text x="261.10" y="228.23" font-size="8.10" text-anchor="end" font-weight="normal" font-style="normal" fill="#2a3f5f" font-family='"Liberation Sans", sans-serif' textLength="12.72" lengthAdjust="spacingAndGlyphs">−10</text>
<text x="261.10" y="247.65" font-size="8.10" text-anchor="end" font-weight="normal" font-style="normal" fill="#2a3f5f" font-family='"Liberation Sans", sans-serif' textLength="12.72" lengthAdjust="spacingAndGlyphs">−20</text>
<text x="345.50" y="264.65" font-size="9.25" text-anchor="middle" font-weight="normal" font-style="normal" fill="#2a3f5f" font-family='"Liberation Sans", sans-serif'>Mean Respiratory Rate (bpm)</text>
<text x="0" y="0" transform="translate(240.60,206.00) rotate(-90)" font-size="9.25" text-anchor="middle" font-weight="normal" fill="#2a3f5f" font-family='"Liberation Sans", sans-serif'>Delta Respiratory Rate</text>
<text x="464.90" y="144.10" font-size="9.30" text-anchor="start" font-weight="bold" font-style="normal" fill="#2a3f5f" font-family='"Liberation Sans", sans-serif'>F</text>
<text x="505.70" y="161.00" font-size="7.10" text-anchor="start" font-weight="normal" font-style="normal" fill="#2a3f5f" font-family='"Liberation Serif", serif' textLength="140.10" lengthAdjust="spacingAndGlyphs" stroke="#2a3f5f" stroke-width="0.18"><tspan font-style="italic">Device #2 − Manual Delta Within</tspan> 10.0% : 45.13</text>
<rect x="493.30" y="167.15" width="157.70" height="77.70" fill="rgb(255,245,240)"/>
<g filter="url(#soft)">
<rect x="530.80" y="213.60" width="13.30" height="4.10" fill="rgb(254,232,221)"/>
<rect x="543.70" y="209.40" width="12.70" height="4.60" fill="rgb(254,232,221)"/>
<rect x="556.00" y="190.90" width="13.20" height="7.80" fill="rgb(254,232,221)"/>
<rect x="518.80" y="210.60" width="12.40" height="3.40" fill="rgb(254,228,216)"/>
<rect x="530.80" y="198.90" width="13.30" height="4.10" fill="rgb(254,228,216)"/>
<rect x="543.70" y="205.70" width="12.70" height="4.10" fill="rgb(254,228,216)"/>
<rect x="518.80" y="213.60" width="12.40" height="4.10" fill="rgb(253,202,181)"/>
<rect x="530.80" y="202.60" width="13.30" height="3.80" fill="rgb(253,202,181)"/>
<rect x="543.70" y="198.30" width="12.70" height="4.10" fill="rgb(252,138,106)"/>
<rect x="530.80" y="209.70" width="13.30" height="4.30" fill="rgb(241,68,50)"/>
<rect x="543.70" y="202.00" width="12.70" height="4.10" fill="rgb(212,32,33)"/>
<rect x="530.80" y="206.00" width="13.30" height="4.10" fill="rgb(103,0,13)"/>
</g>
<line x1="493.30" y1="195.30" x2="651.00" y2="195.30" stroke="#ff0000" stroke-width="1.05" stroke-dasharray="2.9,0.95" stroke-opacity="0.78"/>
<line x1="493.30" y1="204.30" x2="651.00" y2="199.20" stroke="#007a00" stroke-width="1.05" stroke-dasharray="2.9,0.95" stroke-opacity="0.90"/>
<line x1="493.30" y1="207.40" x2="651.00" y2="207.40" stroke="#0000ff" stroke-width="1.05" stroke-dasharray="2.9,0.95" stroke-opacity="0.72"/>
<line x1="493.30" y1="207.90" x2="651.00" y2="213.10" stroke="#007a00" stroke-width="1.05" stroke-dasharray="2.9,0.95" stroke-opacity="0.90"/>
<line x1="493.30" y1="219.30" x2="651.00" y2="219.30" stroke="#ff0000" stroke-width="1.05" stroke-dasharray="2.9,0.95" stroke-opacity="0.78"/>
<defs><linearGradient id="g12" x1="0" y1="1" x2="0" y2="0"><stop offset="0.000" stop-color="rgb(255,245,240)"/><stop offset="0.125" stop-color="rgb(254,224,210)"/><stop offset="0.250" stop-color="rgb(252,187,161)"/><stop offset="0.375" stop-color="rgb(252,146,114)"/><stop offset="0.500" stop-color="rgb(251,106,74)"/><stop offset="0.625" stop-color="rgb(239,59,44)"/><stop offset="0.750" stop-color="rgb(203,24,29)"/><stop offset="0.875" stop-color="rgb(165,15,21)"/><stop offset="1.000" stop-color="rgb(103,0,13)"/></linearGradient></defs>
<rect x="654.90" y="166.35" width="11.10" height="78.25" fill="url(#g12)"/>
<text x="667.70" y="170.38" font-size="8.10" text-anchor="start" font-weight="normal" font-style="normal" fill="#2a3f5f" font-family='"Liberation Sans", sans-serif' textLength="16.68" lengthAdjust="spacingAndGlyphs">1000</text>
<text x="667.70" y="178.08" font-size="8.10" text-anchor="start" font-weight="normal" font-style="normal" fill="#2a3f5f" font-family='"Liberation Sans", sans-serif' textLength="12.51" lengthAdjust="spacingAndGlyphs">900</text>
<text x="667.70" y="185.79" font-size="8.10" text-anchor="start" font-weight="normal" font-style="normal" fill="#2a3f5f" font-family='"Liberation Sans", sans-serif' textLength="12.51" lengthAdjust="spacingAndGlyphs">800</text>
<text x="667.70" y="193.49" font-size="8.10" text-anchor="start" font-weight="normal" font-style="normal" fill="#2a3f5f" font-family='"Liberation Sans", sans-serif' textLength="12.51" lengthAdjust="spacingAndGlyphs">700</text>
<text x="667.70" y="201.19" font-size="8.10" text-anchor="start" font-weight="normal" font-style="normal" fill="#2a3f5f" font-family='"Liberation Sans", sans-serif' textLength="12.51" lengthAdjust="spacingAndGlyphs">600</text>
<text x="667.70" y="208.89" font-size="8.10" text-anchor="start" font-weight="normal" font-style="normal" fill="#2a3f5f" font-family='"Liberation Sans", sans-serif' textLength="12.51" lengthAdjust="spacingAndGlyphs">500</text>
<text x="667.70" y="216.59" font-size="8.10" text-anchor="start" font-weight="normal" font-style="normal" fill="#2a3f5f" font-family='"Liberation Sans", sans-serif' textLength="12.51" lengthAdjust="spacingAndGlyphs">400</text>
<text x="667.70" y="224.29" font-size="8.10" text-anchor="start" font-weight="normal" font-style="normal" fill="#2a3f5f" font-family='"Liberation Sans", sans-serif' textLength="12.51" lengthAdjust="spacingAndGlyphs">300</text>
<text x="667.70" y="232.00" font-size="8.10" text-anchor="start" font-weight="normal" font-style="normal" fill="#2a3f5f" font-family='"Liberation Sans", sans-serif' textLength="12.51" lengthAdjust="spacingAndGlyphs">200</text>
<text x="667.70" y="239.70" font-size="8.10" text-anchor="start" font-weight="normal" font-style="normal" fill="#2a3f5f" font-family='"Liberation Sans", sans-serif' textLength="12.51" lengthAdjust="spacingAndGlyphs">100</text>
<text x="667.70" y="247.40" font-size="8.10" text-anchor="start" font-weight="normal" font-style="normal" fill="#2a3f5f" font-family='"Liberation Sans", sans-serif' textLength="4.17" lengthAdjust="spacingAndGlyphs">0</text>
<text x="493.30" y="252.85" font-size="8.10" text-anchor="middle" font-weight="normal" font-style="normal" fill="#2a3f5f" font-family='"Liberation Sans", sans-serif' textLength="8.34" lengthAdjust="spacingAndGlyphs">10</text>
<text x="524.84" y="252.85" font-size="8.10" text-anchor="middle" font-weight="normal" font-style="normal" fill="#2a3f5f" font-family='"Liberation Sans", sans-serif' textLength="8.34" lengthAdjust="spacingAndGlyphs">15</text>
<text x="556.38" y="252.85" font-size="8.10" text-anchor="middle" font-weight="normal" font-style="normal" fill="#2a3f5f" font-family='"Liberation Sans", sans-serif' textLength="8.34" lengthAdjust="spacingAndGlyphs">20</text>
<text x="587.92" y="252.85" font-size="8.10" text-anchor="middle" font-weight="normal" font-style="normal" fill="#2a3f5f" font-family='"Liberation Sans", sans-serif' textLength="8.34" lengthAdjust="spacingAndGlyphs">25</text>
<text x="619.46" y="252.85" font-size="8.10" text-anchor="middle" font-weight="normal" font-style="normal" fill="#2a3f5f" font-family='"Liberation Sans", sans-serif' textLength="8.34" lengthAdjust="spacingAndGlyphs">30</text>
<text x="651.00" y="252.85" font-size="8.10" text-anchor="middle" font-weight="normal" font-style="normal" fill="#2a3f5f" font-family='"Liberation Sans", sans-serif' textLength="8.34" lengthAdjust="spacingAndGlyphs">35</text>
<text x="491.90" y="169.95" font-size="8.10" text-anchor="end" font-weight="normal" font-style="normal" fill="#2a3f5f" font-family='"Liberation Sans", sans-serif' textLength="8.34" lengthAdjust="spacingAndGlyphs">20</text>
<text x="491.90" y="189.38" font-size="8.10" text-anchor="end" font-weight="normal" font-style="normal" fill="#2a3f5f" font-family='"Liberation Sans", sans-serif' textLength="8.34" lengthAdjust="spacingAndGlyphs">10</text>
<text x="491.90" y="208.80" font-size="8.10" text-anchor="end" font-weight="normal" font-style="normal" fill="#2a3f5f" font-family='"Liberation Sans", sans-serif' textLength="4.17" lengthAdjust="spacingAndGlyphs">0</text>
<text x="491.90" y="228.23" font-size="8.10" text-anchor="end" font-weight="normal" font-style="normal" fill="#2a3f5f" font-family='"Liberation Sans", sans-serif' textLength="12.72" lengthAdjust="spacingAndGlyphs">−10</text>
<text x="491.90" y="247.65" font-size="8.10" text-anchor="end" font-weight="normal" font-style="normal" fill="#2a3f5f" font-family='"Liberation Sans", sans-serif' textLength="12.72" lengthAdjust="spacingAndGlyphs">−20</text>
<text x="572.15" y="264.65" font-size="9.25" text-anchor="middle" font-weight="normal" font-style="normal" fill="#2a3f5f" font-family='"Liberation Sans", sans-serif'>Mean Respiratory Rate (bpm)</text>
<text x="0" y="0" transform="translate(471.50,206.00) rotate(-90)" font-size="9.25" text-anchor="middle" font-weight="normal" fill="#2a3f5f" font-family='"Liberation Sans", sans-serif'>Delta Respiratory Rate</text>
<text x="1.50" y="291.20" font-size="9.30" text-anchor="start" font-weight="bold" font-style="normal" fill="#2a3f5f" font-family='"Liberation Sans", sans-serif'>G</text>
<text x="43.20" y="298.80" font-size="7.10" text-anchor="start" font-weight="normal" font-style="normal" fill="#2a3f5f" font-family='"Liberation Serif", serif' textLength="137.50" lengthAdjust="spacingAndGlyphs" stroke="#2a3f5f" stroke-width="0.18"><tspan font-style="italic">Device #1 − Manual Delta Within</tspan> 5.0% : 87.37</text>
<rect x="29.10" y="307.10" width="161.00" height="77.60" fill="rgb(255,245,240)"/>
<g filter="url(#soft)">
<rect x="161.30" y="341.50" width="9.60" height="2.30" fill="rgb(254,228,216)"/>
<rect x="133.00" y="347.40" width="10.30" height="3.70" fill="rgb(254,217,200)"/>
<rect x="170.50" y="342.80" width="10.20" height="5.60" fill="rgb(254,217,200)"/>
<rect x="85.60" y="349.10" width="9.80" height="2.10" fill="rgb(253,202,181)"/>
<rect x="114.00" y="347.40" width="10.20" height="3.70" fill="rgb(253,202,181)"/>
<rect x="133.00" y="340.80" width="10.30" height="3.00" fill="rgb(253,202,181)"/>
<rect x="161.30" y="345.40" width="9.60" height="3.00" fill="rgb(253,202,181)"/>
<rect x="66.60" y="348.20" width="9.90" height="2.70" fill="rgb(252,187,161)"/>
<rect x="76.10" y="348.20" width="9.90" height="2.70" fill="rgb(252,187,161)"/>
<rect x="142.90" y="346.10" width="9.60" height="2.30" fill="rgb(252,187,161)"/>
<rect x="123.80" y="339.50" width="9.60" height="3.70" fill="rgb(252,171,142)"/>
<rect x="142.90" y="339.50" width="9.60" height="4.30" fill="rgb(252,171,142)"/>
<rect x="95.00" y="339.30" width="9.90" height="7.50" fill="rgb(252,154,123)"/>
<rect x="114.00" y="341.50" width="10.20" height="2.30" fill="rgb(252,138,106)"/>
<rect x="76.10" y="345.80" width="9.90" height="2.80" fill="rgb(251,122,90)"/>
<rect x="85.60" y="344.00" width="9.80" height="2.80" fill="rgb(251,122,90)"/>
<rect x="104.50" y="347.40" width="9.90" height="3.70" fill="rgb(251,122,90)"/>
<rect x="142.90" y="343.40" width="9.60" height="3.10" fill="rgb(251,122,90)"/>
<rect x="104.50" y="341.50" width="9.90" height="3.70" fill="rgb(251,106,74)"/>
<rect x="123.80" y="347.40" width="9.60" height="3.70" fill="rgb(251,106,74)"/>
<rect x="152.10" y="341.50" width="9.60" height="6.90" fill="rgb(251,106,74)"/>
<rect x="85.60" y="346.40" width="9.80" height="3.10" fill="rgb(246,87,62)"/>
<rect x="95.00" y="346.40" width="9.90" height="5.10" fill="rgb(246,87,62)"/>
<rect x="133.00" y="343.40" width="10.30" height="4.40" fill="rgb(246,87,62)"/>
<rect x="114.00" y="343.40" width="10.20" height="4.40" fill="rgb(241,68,50)"/>
<rect x="123.80" y="342.80" width="9.60" height="5.00" fill="rgb(203,24,29)"/>
<rect x="104.50" y="344.80" width="9.90" height="3.00" fill="rgb(153,12,19)"/>
<rect x="161.30" y="343.40" width="9.60" height="2.40" fill="rgb(128,6,16)"/>
</g>
<line x1="30.60" y1="336.80" x2="192.30" y2="336.80" stroke="#ff0000" stroke-width="1.05" stroke-dasharray="2.9,0.95" stroke-opacity="0.78"/>
<line x1="30.60" y1="339.50" x2="192.30" y2="338.70" stroke="#007a00" stroke-width="1.05" stroke-dasharray="2.9,0.95" stroke-opacity="0.90"/>
<line x1="30.60" y1="348.05" x2="192.30" y2="348.05" stroke="#0000ff" stroke-width="1.05" stroke-dasharray="2.9,0.95" stroke-opacity="0.72"/>
<line x1="30.60" y1="353.10" x2="192.30" y2="354.40" stroke="#007a00" stroke-width="1.05" stroke-dasharray="2.9,0.95" stroke-opacity="0.90"/>
<line x1="30.60" y1="359.10" x2="192.30" y2="359.10" stroke="#ff0000" stroke-width="1.05" stroke-dasharray="2.9,0.95" stroke-opacity="0.78"/>
<defs><linearGradient id="g20" x1="0" y1="1" x2="0" y2="0"><stop offset="0.000" stop-color="rgb(255,245,240)"/><stop offset="0.125" stop-color="rgb(254,224,210)"/><stop offset="0.250" stop-color="rgb(252,187,161)"/><stop offset="0.375" stop-color="rgb(252,146,114)"/><stop offset="0.500" stop-color="rgb(251,106,74)"/><stop offset="0.625" stop-color="rgb(239,59,44)"/><stop offset="0.750" stop-color="rgb(203,24,29)"/><stop offset="0.875" stop-color="rgb(165,15,21)"/><stop offset="1.000" stop-color="rgb(103,0,13)"/></linearGradient></defs>
<rect x="194.00" y="306.30" width="11.80" height="78.15" fill="url(#g20)"/>
<text x="207.20" y="387.25" font-size="8.10" text-anchor="start" font-weight="normal" font-style="normal" fill="#2a3f5f" font-family='"Liberation Sans", sans-serif' textLength="4.17" lengthAdjust="spacingAndGlyphs">0</text>
<text x="38.60" y="392.70" font-size="8.10" text-anchor="middle" font-weight="normal" font-style="normal" fill="#2a3f5f" font-family='"Liberation Sans", sans-serif' textLength="8.34" lengthAdjust="spacingAndGlyphs">85</text>
<text x="86.12" y="392.70" font-size="8.10" text-anchor="middle" font-weight="normal" font-style="normal" fill="#2a3f5f" font-family='"Liberation Sans", sans-serif' textLength="8.34" lengthAdjust="spacingAndGlyphs">90</text>
<text x="133.65" y="392.70" font-size="8.10" text-anchor="middle" font-weight="normal" font-style="normal" fill="#2a3f5f" font-family='"Liberation Sans", sans-serif' textLength="8.34" lengthAdjust="spacingAndGlyphs">95</text>
<text x="181.17" y="392.70" font-size="8.10" text-anchor="middle" font-weight="normal" font-style="normal" fill="#2a3f5f" font-family='"Liberation Sans", sans-serif' textLength="12.51" lengthAdjust="spacingAndGlyphs">100</text>
<text x="27.70" y="317.99" font-size="8.10" text-anchor="end" font-weight="normal" font-style="normal" fill="#2a3f5f" font-family='"Liberation Sans", sans-serif' textLength="8.34" lengthAdjust="spacingAndGlyphs">20</text>
<text x="27.70" y="333.54" font-size="8.10" text-anchor="end" font-weight="normal" font-style="normal" fill="#2a3f5f" font-family='"Liberation Sans", sans-serif' textLength="8.34" lengthAdjust="spacingAndGlyphs">10</text>
<text x="27.70" y="349.09" font-size="8.10" text-anchor="end" font-weight="normal" font-style="normal" fill="#2a3f5f" font-family='"Liberation Sans", sans-serif' textLength="4.17" lengthAdjust="spacingAndGlyphs">0</text>
<text x="27.70" y="364.64" font-size="8.10" text-anchor="end" font-weight="normal" font-style="normal" fill="#2a3f5f" font-family='"Liberation Sans", sans-serif' textLength="12.72" lengthAdjust="spacingAndGlyphs">−10</text>
<text x="27.70" y="380.19" font-size="8.10" text-anchor="end" font-weight="normal" font-style="normal" fill="#2a3f5f" font-family='"Liberation Sans", sans-serif' textLength="12.72" lengthAdjust="spacingAndGlyphs">−20</text>
<text x="109.60" y="404.50" font-size="9.25" text-anchor="middle" font-weight="normal" font-style="normal" fill="#2a3f5f" font-family='"Liberation Sans", sans-serif'>Mean SpO2 (%)</text>
<text x="0" y="0" transform="translate(7.30,345.90) rotate(-90)" font-size="9.25" text-anchor="middle" font-weight="normal" fill="#2a3f5f" font-family='"Liberation Sans", sans-serif'>Delta SpO2</text>
<text x="233.20" y="290.60" font-size="9.30" text-anchor="start" font-weight="bold" font-style="normal" fill="#2a3f5f" font-family='"Liberation Sans", sans-serif'>H</text>
<text x="280.20" y="298.80" font-size="7.10" text-anchor="start" font-weight="normal" font-style="normal" fill="#2a3f5f" font-family='"Liberation Serif", serif' textLength="131.00" lengthAdjust="spacingAndGlyphs" stroke="#2a3f5f" stroke-width="0.18"><tspan font-style="italic">Device #1 − Manual Delta Within</tspan> 5.0% : 0.0</text>
<rect x="262.50" y="307.10" width="166.00" height="77.60" fill="rgb(255,245,240)"/>
<g filter="url(#soft)">
</g>
<line x1="262.50" y1="339.70" x2="428.30" y2="338.00" stroke="#007a00" stroke-width="1.05" stroke-dasharray="2.9,0.95" stroke-opacity="0.90"/>
<line x1="262.50" y1="353.00" x2="428.30" y2="354.50" stroke="#007a00" stroke-width="1.05" stroke-dasharray="2.9,0.95" stroke-opacity="0.90"/>
<defs><linearGradient id="g21" x1="0" y1="1" x2="0" y2="0"><stop offset="0.000" stop-color="rgb(255,245,240)"/><stop offset="0.125" stop-color="rgb(254,224,210)"/><stop offset="0.250" stop-color="rgb(252,187,161)"/><stop offset="0.375" stop-color="rgb(252,146,114)"/><stop offset="0.500" stop-color="rgb(251,106,74)"/><stop offset="0.625" stop-color="rgb(239,59,44)"/><stop offset="0.750" stop-color="rgb(203,24,29)"/><stop offset="0.875" stop-color="rgb(165,15,21)"/><stop offset="1.000" stop-color="rgb(103,0,13)"/></linearGradient></defs>
<rect x="431.90" y="306.30" width="12.00" height="78.15" fill="url(#g21)"/>
<text x="444.90" y="348.18" font-size="8.10" text-anchor="start" font-weight="normal" font-style="normal" fill="#2a3f5f" font-family='"Liberation Sans", sans-serif' textLength="4.17" lengthAdjust="spacingAndGlyphs">0</text>
<text x="272.30" y="392.70" font-size="8.10" text-anchor="middle" font-weight="normal" font-style="normal" fill="#2a3f5f" font-family='"Liberation Sans", sans-serif' textLength="8.34" lengthAdjust="spacingAndGlyphs">85</text>
<text x="321.30" y="392.70" font-size="8.10" text-anchor="middle" font-weight="normal" font-style="normal" fill="#2a3f5f" font-family='"Liberation Sans", sans-serif' textLength="8.34" lengthAdjust="spacingAndGlyphs">90</text>
<text x="370.29" y="392.70" font-size="8.10" text-anchor="middle" font-weight="normal" font-style="normal" fill="#2a3f5f" font-family='"Liberation Sans", sans-serif' textLength="8.34" lengthAdjust="spacingAndGlyphs">95</text>
<text x="419.29" y="392.70" font-size="8.10" text-anchor="middle" font-weight="normal" font-style="normal" fill="#2a3f5f" font-family='"Liberation Sans", sans-serif' textLength="12.51" lengthAdjust="spacingAndGlyphs">100</text>
<text x="261.10" y="317.99" font-size="8.10" text-anchor="end" font-weight="normal" font-style="normal" fill="#2a3f5f" font-family='"Liberation Sans", sans-serif' textLength="8.34" lengthAdjust="spacingAndGlyphs">20</text>
<text x="261.10" y="333.54" font-size="8.10" text-anchor="end" font-weight="normal" font-style="normal" fill="#2a3f5f" font-family='"Liberation Sans", sans-serif' textLength="8.34" lengthAdjust="spacingAndGlyphs">10</text>
<text x="261.10" y="349.09" font-size="8.10" text-anchor="end" font-weight="normal" font-style="normal" fill="#2a3f5f" font-family='"Liberation Sans", sans-serif' textLength="4.17" lengthAdjust="spacingAndGlyphs">0</text>
<text x="261.10" y="364.64" font-size="8.10" text-anchor="end" font-weight="normal" font-style="normal" fill="#2a3f5f" font-family='"Liberation Sans", sans-serif' textLength="12.72" lengthAdjust="spacingAndGlyphs">−10</text>
<text x="261.10" y="380.19" font-size="8.10" text-anchor="end" font-weight="normal" font-style="normal" fill="#2a3f5f" font-family='"Liberation Sans", sans-serif' textLength="12.72" lengthAdjust="spacingAndGlyphs">−20</text>
<text x="345.50" y="404.50" font-size="9.25" text-anchor="middle" font-weight="normal" font-style="normal" fill="#2a3f5f" font-family='"Liberation Sans", sans-serif'>Mean SpO2 (%)</text>
<text x="0" y="0" transform="translate(240.60,345.90) rotate(-90)" font-size="9.25" text-anchor="middle" font-weight="normal" fill="#2a3f5f" font-family='"Liberation Sans", sans-serif'>Delta SpO2</text>
<text x="464.40" y="289.80" font-size="9.60" text-anchor="start" font-weight="bold" font-style="normal" fill="#2a3f5f" font-family='"Liberation Mono", monospace'>I</text>
<text x="506.40" y="298.80" font-size="7.10" text-anchor="start" font-weight="normal" font-style="normal" fill="#2a3f5f" font-family='"Liberation Serif", serif' textLength="136.60" lengthAdjust="spacingAndGlyphs" stroke="#2a3f5f" stroke-width="0.18"><tspan font-style="italic">Device #2 − Manual Delta Within</tspan> 5.0% : 77.36</text>
<rect x="493.30" y="307.10" width="157.70" height="77.60" fill="rgb(255,245,240)"/>
<g filter="url(#soft)">
<rect x="568.10" y="344.80" width="8.70" height="2.40" fill="rgb(254,228,216)"/>
<rect x="595.20" y="342.70" width="10.10" height="5.20" fill="rgb(254,228,216)"/>
<rect x="576.40" y="344.10" width="10.20" height="6.60" fill="rgb(254,225,211)"/>
<rect x="586.20" y="333.70" width="9.40" height="5.90" fill="rgb(254,217,200)"/>
<rect x="604.90" y="342.00" width="9.40" height="2.50" fill="rgb(254,217,200)"/>
<rect x="613.90" y="342.00" width="9.40" height="2.50" fill="rgb(253,202,181)"/>
<rect x="586.20" y="345.50" width="9.40" height="2.40" fill="rgb(252,171,142)"/>
<rect x="595.20" y="333.70" width="10.10" height="9.40" fill="rgb(252,154,123)"/>
<rect x="622.90" y="343.40" width="10.10" height="3.80" fill="rgb(252,138,106)"/>
<rect x="632.60" y="344.80" width="9.40" height="3.10" fill="rgb(251,122,90)"/>
<rect x="604.90" y="337.80" width="9.40" height="4.60" fill="rgb(246,87,62)"/>
<rect x="604.90" y="335.80" width="9.40" height="2.40" fill="rgb(203,24,29)"/>
<rect x="622.90" y="341.30" width="10.10" height="2.50" fill="rgb(188,20,26)"/>
<rect x="613.90" y="338.50" width="9.40" height="3.90" fill="rgb(128,6,16)"/>
</g>
<line x1="493.30" y1="332.40" x2="651.00" y2="332.40" stroke="#ff0000" stroke-width="1.05" stroke-dasharray="2.9,0.95" stroke-opacity="0.78"/>
<line x1="493.30" y1="339.70" x2="651.00" y2="338.40" stroke="#007a00" stroke-width="1.05" stroke-dasharray="2.9,0.95" stroke-opacity="0.90"/>
<line x1="493.30" y1="344.10" x2="651.00" y2="344.10" stroke="#0000ff" stroke-width="1.05" stroke-dasharray="2.9,0.95" stroke-opacity="0.72"/>
<line x1="493.30" y1="353.00" x2="651.00" y2="354.00" stroke="#007a00" stroke-width="1.05" stroke-dasharray="2.9,0.95" stroke-opacity="0.90"/>
<line x1="493.30" y1="355.50" x2="651.00" y2="355.50" stroke="#ff0000" stroke-width="1.05" stroke-dasharray="2.9,0.95" stroke-opacity="0.78"/>
<defs><linearGradient id="g22" x1="0" y1="1" x2="0" y2="0"><stop offset="0.000" stop-color="rgb(255,245,240)"/><stop offset="0.125" stop-color="rgb(254,224,210)"/><stop offset="0.250" stop-color="rgb(252,187,161)"/><stop offset="0.375" stop-color="rgb(252,146,114)"/><stop offset="0.500" stop-color="rgb(251,106,74)"/><stop offset="0.625" stop-color="rgb(239,59,44)"/><stop offset="0.750" stop-color="rgb(203,24,29)"/><stop offset="0.875" stop-color="rgb(165,15,21)"/><stop offset="1.000" stop-color="rgb(103,0,13)"/></linearGradient></defs>
<rect x="654.90" y="306.30" width="11.10" height="78.15" fill="url(#g22)"/>
<text x="667.70" y="311.01" font-size="8.10" text-anchor="start" font-weight="normal" font-style="normal" fill="#2a3f5f" font-family='"Liberation Sans", sans-serif' textLength="12.51" lengthAdjust="spacingAndGlyphs">200</text>
<text x="667.70" y="349.13" font-size="8.10" text-anchor="start" font-weight="normal" font-style="normal" fill="#2a3f5f" font-family='"Liberation Sans", sans-serif' textLength="12.51" lengthAdjust="spacingAndGlyphs">100</text>
<text x="667.70" y="368.19" font-size="8.10" text-anchor="start" font-weight="normal" font-style="normal" fill="#2a3f5f" font-family='"Liberation Sans", sans-serif' textLength="8.34" lengthAdjust="spacingAndGlyphs">50</text>
<text x="667.70" y="387.25" font-size="8.10" text-anchor="start" font-weight="normal" font-style="normal" fill="#2a3f5f" font-family='"Liberation Sans", sans-serif' textLength="4.17" lengthAdjust="spacingAndGlyphs">0</text>
<text x="502.61" y="392.70" font-size="8.10" text-anchor="middle" font-weight="normal" font-style="normal" fill="#2a3f5f" font-family='"Liberation Sans", sans-serif' textLength="8.34" lengthAdjust="spacingAndGlyphs">85</text>
<text x="549.16" y="392.70" font-size="8.10" text-anchor="middle" font-weight="normal" font-style="normal" fill="#2a3f5f" font-family='"Liberation Sans", sans-serif' textLength="8.34" lengthAdjust="spacingAndGlyphs">90</text>
<text x="595.70" y="392.70" font-size="8.10" text-anchor="middle" font-weight="normal" font-style="normal" fill="#2a3f5f" font-family='"Liberation Sans", sans-serif' textLength="8.34" lengthAdjust="spacingAndGlyphs">95</text>
<text x="642.25" y="392.70" font-size="8.10" text-anchor="middle" font-weight="normal" font-style="normal" fill="#2a3f5f" font-family='"Liberation Sans", sans-serif' textLength="12.51" lengthAdjust="spacingAndGlyphs">100</text>
<text x="491.90" y="317.99" font-size="8.10" text-anchor="end" font-weight="normal" font-style="normal" fill="#2a3f5f" font-family='"Liberation Sans", sans-serif' textLength="8.34" lengthAdjust="spacingAndGlyphs">20</text>
<text x="491.90" y="333.54" font-size="8.10" text-anchor="end" font-weight="normal" font-style="normal" fill="#2a3f5f" font-family='"Liberation Sans", sans-serif' textLength="8.34" lengthAdjust="spacingAndGlyphs">10</text>
<text x="491.90" y="349.09" font-size="8.10" text-anchor="end" font-weight="normal" font-style="normal" fill="#2a3f5f" font-family='"Liberation Sans", sans-serif' textLength="4.17" lengthAdjust="spacingAndGlyphs">0</text>
<text x="491.90" y="364.64" font-size="8.10" text-anchor="end" font-weight="normal" font-style="normal" fill="#2a3f5f" font-family='"Liberation Sans", sans-serif' textLength="12.72" lengthAdjust="spacingAndGlyphs">−10</text>
<text x="491.90" y="380.19" font-size="8.10" text-anchor="end" font-weight="normal" font-style="normal" fill="#2a3f5f" font-family='"Liberation Sans", sans-serif' textLength="12.72" lengthAdjust="spacingAndGlyphs">−20</text>
<text x="572.15" y="404.50" font-size="9.25" text-anchor="middle" font-weight="normal" font-style="normal" fill="#2a3f5f" font-family='"Liberation Sans", sans-serif'>Mean SpO2 (%)</text>
<text x="0" y="0" transform="translate(471.50,345.90) rotate(-90)" font-size="9.25" text-anchor="middle" font-weight="normal" fill="#2a3f5f" font-family='"Liberation Sans", sans-serif'>Delta SpO2</text>
<text x="2.00" y="428.80" font-size="9.30" text-anchor="start" font-weight="bold" font-style="normal" fill="#2a3f5f" font-family='"Liberation Sans", sans-serif'>J</text>
<text x="42.90" y="440.60" font-size="7.10" text-anchor="start" font-weight="normal" font-style="normal" fill="#2a3f5f" font-family='"Liberation Serif", serif' textLength="137.20" lengthAdjust="spacingAndGlyphs" stroke="#2a3f5f" stroke-width="0.18"><tspan font-style="italic">Device #1 − Manual Delta Within</tspan> 5.0% : 98.75</text>
<rect x="29.10" y="447.10" width="161.00" height="77.70" fill="rgb(255,245,240)"/>
<g filter="url(#soft)">
<rect x="149.70" y="455.00" width="7.10" height="8.20" fill="rgb(255,238,230)"/>
<rect x="129.60" y="501.40" width="6.60" height="7.60" fill="rgb(255,237,228)"/>
<rect x="135.80" y="501.40" width="7.30" height="7.60" fill="rgb(255,237,228)"/>
<rect x="142.70" y="462.80" width="7.40" height="8.10" fill="rgb(255,237,228)"/>
<rect x="149.70" y="493.70" width="7.10" height="8.10" fill="rgb(255,237,228)"/>
<rect x="156.40" y="470.50" width="6.50" height="8.60" fill="rgb(255,237,228)"/>
<rect x="156.40" y="478.70" width="6.50" height="8.20" fill="rgb(255,237,228)"/>
<rect x="129.60" y="493.70" width="6.60" height="8.10" fill="rgb(254,228,216)"/>
<rect x="149.70" y="462.80" width="7.10" height="8.10" fill="rgb(254,225,211)"/>
<rect x="149.70" y="486.50" width="7.10" height="7.60" fill="rgb(252,196,173)"/>
<rect x="142.70" y="493.70" width="7.40" height="8.10" fill="rgb(252,177,150)"/>
<rect x="149.70" y="470.50" width="7.10" height="8.60" fill="rgb(252,177,150)"/>
<rect x="135.80" y="478.70" width="7.30" height="8.20" fill="rgb(252,171,142)"/>
<rect x="135.80" y="493.70" width="7.30" height="8.10" fill="rgb(252,154,123)"/>
<rect x="149.70" y="478.70" width="7.10" height="8.20" fill="rgb(252,144,112)"/>
<rect x="142.70" y="470.50" width="7.40" height="8.60" fill="rgb(252,132,100)"/>
<rect x="135.80" y="486.50" width="7.30" height="7.60" fill="rgb(241,68,50)"/>
<rect x="142.70" y="478.70" width="7.40" height="8.20" fill="rgb(103,0,13)"/>
<rect x="142.70" y="486.50" width="7.40" height="7.60" fill="rgb(103,0,13)"/>
</g>
<line x1="30.60" y1="464.40" x2="192.30" y2="455.10" stroke="#007a00" stroke-width="1.05" stroke-dasharray="2.9,0.95" stroke-opacity="0.90"/>
<line x1="30.60" y1="468.40" x2="192.30" y2="468.40" stroke="#ff0000" stroke-width="1.05" stroke-dasharray="2.9,0.95" stroke-opacity="0.78"/>
<line x1="30.60" y1="487.20" x2="192.30" y2="487.20" stroke="#0000ff" stroke-width="1.05" stroke-dasharray="2.9,0.95" stroke-opacity="0.72"/>
<line x1="30.60" y1="506.10" x2="192.30" y2="506.10" stroke="#ff0000" stroke-width="1.05" stroke-dasharray="2.9,0.95" stroke-opacity="0.78"/>
<line x1="30.60" y1="508.10" x2="192.30" y2="517.80" stroke="#007a00" stroke-width="1.05" stroke-dasharray="2.9,0.95" stroke-opacity="0.90"/>
<defs><linearGradient id="g30" x1="0" y1="1" x2="0" y2="0"><stop offset="0.000" stop-color="rgb(255,245,240)"/><stop offset="0.125" stop-color="rgb(254,224,210)"/><stop offset="0.250" stop-color="rgb(252,187,161)"/><stop offset="0.375" stop-color="rgb(252,146,114)"/><stop offset="0.500" stop-color="rgb(251,106,74)"/><stop offset="0.625" stop-color="rgb(239,59,44)"/><stop offset="0.750" stop-color="rgb(203,24,29)"/><stop offset="0.875" stop-color="rgb(165,15,21)"/><stop offset="1.000" stop-color="rgb(103,0,13)"/></linearGradient></defs>
<rect x="194.00" y="446.30" width="11.80" height="78.25" fill="url(#g30)"/>
<text x="207.20" y="453.88" font-size="8.10" text-anchor="start" font-weight="normal" font-style="normal" fill="#2a3f5f" font-family='"Liberation Sans", sans-serif' textLength="12.51" lengthAdjust="spacingAndGlyphs">600</text>
<text x="207.20" y="466.12" font-size="8.10" text-anchor="start" font-weight="normal" font-style="normal" fill="#2a3f5f" font-family='"Liberation Sans", sans-serif' textLength="12.51" lengthAdjust="spacingAndGlyphs">500</text>
<text x="207.20" y="478.37" font-size="8.10" text-anchor="start" font-weight="normal" font-style="normal" fill="#2a3f5f" font-family='"Liberation Sans", sans-serif' textLength="12.51" lengthAdjust="spacingAndGlyphs">400</text>
<text x="207.20" y="490.61" font-size="8.10" text-anchor="start" font-weight="normal" font-style="normal" fill="#2a3f5f" font-family='"Liberation Sans", sans-serif' textLength="12.51" lengthAdjust="spacingAndGlyphs">300</text>
<text x="207.20" y="502.86" font-size="8.10" text-anchor="start" font-weight="normal" font-style="normal" fill="#2a3f5f" font-family='"Liberation Sans", sans-serif' textLength="12.51" lengthAdjust="spacingAndGlyphs">200</text>
<text x="207.20" y="515.10" font-size="8.10" text-anchor="start" font-weight="normal" font-style="normal" fill="#2a3f5f" font-family='"Liberation Sans", sans-serif' textLength="12.51" lengthAdjust="spacingAndGlyphs">100</text>
<text x="207.20" y="521.23" font-size="8.10" text-anchor="start" font-weight="normal" font-style="normal" fill="#2a3f5f" font-family='"Liberation Sans", sans-serif' textLength="8.34" lengthAdjust="spacingAndGlyphs">50</text>
<text x="207.20" y="527.35" font-size="8.10" text-anchor="start" font-weight="normal" font-style="normal" fill="#2a3f5f" font-family='"Liberation Sans", sans-serif' textLength="4.17" lengthAdjust="spacingAndGlyphs">0</text>
<text x="29.10" y="532.80" font-size="8.10" text-anchor="middle" font-weight="normal" font-style="normal" fill="#2a3f5f" font-family='"Liberation Sans", sans-serif' textLength="8.34" lengthAdjust="spacingAndGlyphs">28</text>
<text x="55.93" y="532.80" font-size="8.10" text-anchor="middle" font-weight="normal" font-style="normal" fill="#2a3f5f" font-family='"Liberation Sans", sans-serif' textLength="8.34" lengthAdjust="spacingAndGlyphs">30</text>
<text x="82.77" y="532.80" font-size="8.10" text-anchor="middle" font-weight="normal" font-style="normal" fill="#2a3f5f" font-family='"Liberation Sans", sans-serif' textLength="8.34" lengthAdjust="spacingAndGlyphs">32</text>
<text x="109.60" y="532.80" font-size="8.10" text-anchor="middle" font-weight="normal" font-style="normal" fill="#2a3f5f" font-family='"Liberation Sans", sans-serif' textLength="8.34" lengthAdjust="spacingAndGlyphs">34</text>
<text x="136.43" y="532.80" font-size="8.10" text-anchor="middle" font-weight="normal" font-style="normal" fill="#2a3f5f" font-family='"Liberation Sans", sans-serif' textLength="8.34" lengthAdjust="spacingAndGlyphs">36</text>
<text x="163.27" y="532.80" font-size="8.10" text-anchor="middle" font-weight="normal" font-style="normal" fill="#2a3f5f" font-family='"Liberation Sans", sans-serif' textLength="8.34" lengthAdjust="spacingAndGlyphs">38</text>
<text x="190.10" y="532.80" font-size="8.10" text-anchor="middle" font-weight="normal" font-style="normal" fill="#2a3f5f" font-family='"Liberation Sans", sans-serif' textLength="8.34" lengthAdjust="spacingAndGlyphs">40</text>
<text x="27.70" y="457.83" font-size="8.10" text-anchor="end" font-weight="normal" font-style="normal" fill="#2a3f5f" font-family='"Liberation Sans", sans-serif' textLength="4.17" lengthAdjust="spacingAndGlyphs">2</text>
<text x="27.70" y="473.37" font-size="8.10" text-anchor="end" font-weight="normal" font-style="normal" fill="#2a3f5f" font-family='"Liberation Sans", sans-serif' textLength="4.17" lengthAdjust="spacingAndGlyphs">1</text>
<text x="27.70" y="488.91" font-size="8.10" text-anchor="end" font-weight="normal" font-style="normal" fill="#2a3f5f" font-family='"Liberation Sans", sans-serif' textLength="4.17" lengthAdjust="spacingAndGlyphs">0</text>
<text x="27.70" y="504.45" font-size="8.10" text-anchor="end" font-weight="normal" font-style="normal" fill="#2a3f5f" font-family='"Liberation Sans", sans-serif' textLength="8.55" lengthAdjust="spacingAndGlyphs">−1</text>
<text x="27.70" y="519.99" font-size="8.10" text-anchor="end" font-weight="normal" font-style="normal" fill="#2a3f5f" font-family='"Liberation Sans", sans-serif' textLength="8.55" lengthAdjust="spacingAndGlyphs">−2</text>
<text x="109.60" y="544.60" font-size="9.25" text-anchor="middle" font-weight="normal" font-style="normal" fill="#2a3f5f" font-family='"Liberation Sans", sans-serif'>Mean Temperature (C)</text>
<text x="0" y="0" transform="translate(7.30,485.95) rotate(-90)" font-size="9.25" text-anchor="middle" font-weight="normal" fill="#2a3f5f" font-family='"Liberation Sans", sans-serif'>Delta Temperature</text>
<text x="234.30" y="428.10" font-size="9.30" text-anchor="start" font-weight="bold" font-style="normal" fill="#2a3f5f" font-family='"Liberation Sans", sans-serif'>K</text>
<text x="280.00" y="440.60" font-size="7.10" text-anchor="start" font-weight="normal" font-style="normal" fill="#2a3f5f" font-family='"Liberation Serif", serif' textLength="137.10" lengthAdjust="spacingAndGlyphs" stroke="#2a3f5f" stroke-width="0.18"><tspan font-style="italic">Device #1 − Manual Delta Within</tspan> 5.0% : 99.19</text>
<rect x="262.50" y="447.10" width="166.00" height="77.70" fill="rgb(255,245,240)"/>
<g filter="url(#soft)">
<rect x="372.80" y="455.00" width="7.30" height="9.20" fill="rgb(255,237,228)"/>
<rect x="365.90" y="501.40" width="7.30" height="8.10" fill="rgb(255,235,226)"/>
<rect x="372.80" y="501.40" width="7.30" height="8.10" fill="rgb(255,235,226)"/>
<rect x="379.70" y="446.80" width="7.40" height="8.60" fill="rgb(255,235,226)"/>
<rect x="386.70" y="471.00" width="7.10" height="8.10" fill="rgb(255,235,226)"/>
<rect x="393.40" y="478.70" width="7.10" height="7.60" fill="rgb(255,235,226)"/>
<rect x="393.40" y="485.90" width="7.10" height="8.20" fill="rgb(255,235,226)"/>
<rect x="365.90" y="463.80" width="7.30" height="7.60" fill="rgb(254,232,221)"/>
<rect x="365.90" y="471.00" width="7.30" height="8.10" fill="rgb(254,232,221)"/>
<rect x="379.70" y="455.00" width="7.40" height="9.20" fill="rgb(254,228,216)"/>
<rect x="386.70" y="478.70" width="7.10" height="7.60" fill="rgb(254,228,216)"/>
<rect x="386.70" y="493.70" width="7.10" height="8.10" fill="rgb(254,228,216)"/>
<rect x="386.70" y="463.80" width="7.10" height="7.60" fill="rgb(254,217,200)"/>
<rect x="365.90" y="485.90" width="7.30" height="8.20" fill="rgb(253,202,181)"/>
<rect x="386.70" y="485.90" width="7.10" height="8.20" fill="rgb(252,196,173)"/>
<rect x="365.90" y="478.70" width="7.30" height="7.60" fill="rgb(252,187,161)"/>
<rect x="372.80" y="463.80" width="7.30" height="7.60" fill="rgb(252,171,142)"/>
<rect x="379.70" y="463.80" width="7.40" height="7.60" fill="rgb(252,171,142)"/>
<rect x="379.70" y="471.00" width="7.40" height="8.10" fill="rgb(252,171,142)"/>
<rect x="379.70" y="493.70" width="7.40" height="8.10" fill="rgb(252,132,100)"/>
<rect x="372.80" y="471.00" width="7.30" height="8.10" fill="rgb(251,106,74)"/>
<rect x="372.80" y="493.70" width="7.30" height="8.10" fill="rgb(232,52,41)"/>
<rect x="379.70" y="478.70" width="7.40" height="7.60" fill="rgb(232,52,41)"/>
<rect x="379.70" y="485.90" width="7.40" height="8.20" fill="rgb(232,52,41)"/>
<rect x="372.80" y="478.70" width="7.30" height="7.60" fill="rgb(182,19,25)"/>
<rect x="372.80" y="485.90" width="7.30" height="8.20" fill="rgb(103,0,13)"/>
</g>
<line x1="262.50" y1="464.50" x2="428.30" y2="455.10" stroke="#007a00" stroke-width="1.05" stroke-dasharray="2.9,0.95" stroke-opacity="0.90"/>
<line x1="262.50" y1="463.60" x2="428.30" y2="463.60" stroke="#ff0000" stroke-width="1.05" stroke-dasharray="2.9,0.95" stroke-opacity="0.78"/>
<line x1="262.50" y1="484.60" x2="428.30" y2="484.60" stroke="#0000ff" stroke-width="1.05" stroke-dasharray="2.9,0.95" stroke-opacity="0.72"/>
<line x1="262.50" y1="505.30" x2="428.30" y2="505.30" stroke="#ff0000" stroke-width="1.05" stroke-dasharray="2.9,0.95" stroke-opacity="0.78"/>
<line x1="262.50" y1="508.00" x2="428.30" y2="517.40" stroke="#007a00" stroke-width="1.05" stroke-dasharray="2.9,0.95" stroke-opacity="0.90"/>
<defs><linearGradient id="g31" x1="0" y1="1" x2="0" y2="0"><stop offset="0.000" stop-color="rgb(255,245,240)"/><stop offset="0.125" stop-color="rgb(254,224,210)"/><stop offset="0.250" stop-color="rgb(252,187,161)"/><stop offset="0.375" stop-color="rgb(252,146,114)"/><stop offset="0.500" stop-color="rgb(251,106,74)"/><stop offset="0.625" stop-color="rgb(239,59,44)"/><stop offset="0.750" stop-color="rgb(203,24,29)"/><stop offset="0.875" stop-color="rgb(165,15,21)"/><stop offset="1.000" stop-color="rgb(103,0,13)"/></linearGradient></defs>
<rect x="431.90" y="446.30" width="12.00" height="78.25" fill="url(#g31)"/>
<text x="444.90" y="527.35" font-size="8.10" text-anchor="start" font-weight="normal" font-style="normal" fill="#2a3f5f" font-family='"Liberation Sans", sans-serif' textLength="4.17" lengthAdjust="spacingAndGlyphs">0</text>
<text x="262.50" y="532.80" font-size="8.10" text-anchor="middle" font-weight="normal" font-style="normal" fill="#2a3f5f" font-family='"Liberation Sans", sans-serif' textLength="8.34" lengthAdjust="spacingAndGlyphs">28</text>
<text x="290.17" y="532.80" font-size="8.10" text-anchor="middle" font-weight="normal" font-style="normal" fill="#2a3f5f" font-family='"Liberation Sans", sans-serif' textLength="8.34" lengthAdjust="spacingAndGlyphs">30</text>
<text x="317.83" y="532.80" font-size="8.10" text-anchor="middle" font-weight="normal" font-style="normal" fill="#2a3f5f" font-family='"Liberation Sans", sans-serif' textLength="8.34" lengthAdjust="spacingAndGlyphs">32</text>
<text x="345.50" y="532.80" font-size="8.10" text-anchor="middle" font-weight="normal" font-style="normal" fill="#2a3f5f" font-family='"Liberation Sans", sans-serif' textLength="8.34" lengthAdjust="spacingAndGlyphs">34</text>
<text x="373.17" y="532.80" font-size="8.10" text-anchor="middle" font-weight="normal" font-style="normal" fill="#2a3f5f" font-family='"Liberation Sans", sans-serif' textLength="8.34" lengthAdjust="spacingAndGlyphs">36</text>
<text x="400.83" y="532.80" font-size="8.10" text-anchor="middle" font-weight="normal" font-style="normal" fill="#2a3f5f" font-family='"Liberation Sans", sans-serif' textLength="8.34" lengthAdjust="spacingAndGlyphs">38</text>
<text x="428.50" y="532.80" font-size="8.10" text-anchor="middle" font-weight="normal" font-style="normal" fill="#2a3f5f" font-family='"Liberation Sans", sans-serif' textLength="8.34" lengthAdjust="spacingAndGlyphs">40</text>
<text x="261.10" y="457.83" font-size="8.10" text-anchor="end" font-weight="normal" font-style="normal" fill="#2a3f5f" font-family='"Liberation Sans", sans-serif' textLength="4.17" lengthAdjust="spacingAndGlyphs">2</text>
<text x="261.10" y="473.37" font-size="8.10" text-anchor="end" font-weight="normal" font-style="normal" fill="#2a3f5f" font-family='"Liberation Sans", sans-serif' textLength="4.17" lengthAdjust="spacingAndGlyphs">1</text>
<text x="261.10" y="488.91" font-size="8.10" text-anchor="end" font-weight="normal" font-style="normal" fill="#2a3f5f" font-family='"Liberation Sans", sans-serif' textLength="4.17" lengthAdjust="spacingAndGlyphs">0</text>
<text x="261.10" y="504.45" font-size="8.10" text-anchor="end" font-weight="normal" font-style="normal" fill="#2a3f5f" font-family='"Liberation Sans", sans-serif' textLength="8.55" lengthAdjust="spacingAndGlyphs">−1</text>
<text x="261.10" y="519.99" font-size="8.10" text-anchor="end" font-weight="normal" font-style="normal" fill="#2a3f5f" font-family='"Liberation Sans", sans-serif' textLength="8.55" lengthAdjust="spacingAndGlyphs">−2</text>
<text x="345.50" y="544.60" font-size="9.25" text-anchor="middle" font-weight="normal" font-style="normal" fill="#2a3f5f" font-family='"Liberation Sans", sans-serif'>Mean Temperature (C)</text>
<text x="0" y="0" transform="translate(240.60,485.95) rotate(-90)" font-size="9.25" text-anchor="middle" font-weight="normal" fill="#2a3f5f" font-family='"Liberation Sans", sans-serif'>Delta Temperature</text>
<text x="465.90" y="427.00" font-size="9.30" text-anchor="start" font-weight="bold" font-style="normal" fill="#2a3f5f" font-family='"Liberation Sans", sans-serif'>L</text>
<text x="509.00" y="440.60" font-size="7.10" text-anchor="start" font-weight="normal" font-style="normal" fill="#2a3f5f" font-family='"Liberation Serif", serif' textLength="133.50" lengthAdjust="spacingAndGlyphs" stroke="#2a3f5f" stroke-width="0.18"><tspan font-style="italic">Device #2 − Manual Delta Within</tspan> 5.0% : 99.5</text>
<rect x="493.30" y="447.10" width="157.70" height="77.70" fill="rgb(255,245,240)"/>
<g filter="url(#soft)">
<rect x="605.00" y="454.30" width="7.10" height="8.30" fill="rgb(255,238,230)"/>
<rect x="592.20" y="462.20" width="6.50" height="8.70" fill="rgb(255,235,226)"/>
<rect x="592.20" y="470.50" width="6.50" height="8.60" fill="rgb(255,235,226)"/>
<rect x="598.30" y="493.70" width="7.10" height="8.10" fill="rgb(255,235,226)"/>
<rect x="605.00" y="501.40" width="7.10" height="7.60" fill="rgb(255,235,226)"/>
<rect x="611.70" y="462.20" width="6.60" height="8.70" fill="rgb(255,235,226)"/>
<rect x="611.70" y="470.50" width="6.60" height="8.60" fill="rgb(255,235,226)"/>
<rect x="611.70" y="478.70" width="6.60" height="7.60" fill="rgb(255,235,226)"/>
<rect x="611.70" y="485.90" width="6.60" height="8.20" fill="rgb(255,235,226)"/>
<rect x="605.00" y="462.20" width="7.10" height="8.70" fill="rgb(254,228,216)"/>
<rect x="605.00" y="470.50" width="7.10" height="8.60" fill="rgb(253,208,188)"/>
<rect x="605.00" y="478.70" width="7.10" height="7.60" fill="rgb(252,154,123)"/>
<rect x="605.00" y="493.70" width="7.10" height="8.10" fill="rgb(252,154,123)"/>
<rect x="598.30" y="470.50" width="7.10" height="8.60" fill="rgb(252,138,106)"/>
<rect x="598.30" y="485.90" width="7.10" height="8.20" fill="rgb(251,106,74)"/>
<rect x="598.30" y="478.70" width="7.10" height="7.60" fill="rgb(103,0,13)"/>
<rect x="605.00" y="485.90" width="7.10" height="8.20" fill="rgb(103,0,13)"/>
</g>
<line x1="493.30" y1="464.50" x2="651.00" y2="455.10" stroke="#007a00" stroke-width="1.05" stroke-dasharray="2.9,0.95" stroke-opacity="0.90"/>
<line x1="493.30" y1="468.30" x2="651.00" y2="468.30" stroke="#ff0000" stroke-width="1.05" stroke-dasharray="2.9,0.95" stroke-opacity="0.78"/>
<line x1="493.30" y1="485.10" x2="651.00" y2="485.10" stroke="#0000ff" stroke-width="1.05" stroke-dasharray="2.9,0.95" stroke-opacity="0.72"/>
<line x1="493.30" y1="502.10" x2="651.00" y2="502.10" stroke="#ff0000" stroke-width="1.05" stroke-dasharray="2.9,0.95" stroke-opacity="0.78"/>
<line x1="493.30" y1="508.00" x2="651.00" y2="517.40" stroke="#007a00" stroke-width="1.05" stroke-dasharray="2.9,0.95" stroke-opacity="0.90"/>
<defs><linearGradient id="g32" x1="0" y1="1" x2="0" y2="0"><stop offset="0.000" stop-color="rgb(255,245,240)"/><stop offset="0.125" stop-color="rgb(254,224,210)"/><stop offset="0.250" stop-color="rgb(252,187,161)"/><stop offset="0.375" stop-color="rgb(252,146,114)"/><stop offset="0.500" stop-color="rgb(251,106,74)"/><stop offset="0.625" stop-color="rgb(239,59,44)"/><stop offset="0.750" stop-color="rgb(203,24,29)"/><stop offset="0.875" stop-color="rgb(165,15,21)"/><stop offset="1.000" stop-color="rgb(103,0,13)"/></linearGradient></defs>
<rect x="654.90" y="446.30" width="11.10" height="78.25" fill="url(#g32)"/>
<text x="667.70" y="453.45" font-size="8.10" text-anchor="start" font-weight="normal" font-style="normal" fill="#2a3f5f" font-family='"Liberation Sans", sans-serif' textLength="12.51" lengthAdjust="spacingAndGlyphs">900</text>
<text x="667.70" y="461.66" font-size="8.10" text-anchor="start" font-weight="normal" font-style="normal" fill="#2a3f5f" font-family='"Liberation Sans", sans-serif' textLength="12.51" lengthAdjust="spacingAndGlyphs">800</text>
<text x="667.70" y="469.87" font-size="8.10" text-anchor="start" font-weight="normal" font-style="normal" fill="#2a3f5f" font-family='"Liberation Sans", sans-serif' textLength="12.51" lengthAdjust="spacingAndGlyphs">700</text>
<text x="667.70" y="478.08" font-size="8.10" text-anchor="start" font-weight="normal" font-style="normal" fill="#2a3f5f" font-family='"Liberation Sans", sans-serif' textLength="12.51" lengthAdjust="spacingAndGlyphs">600</text>
<text x="667.70" y="486.30" font-size="8.10" text-anchor="start" font-weight="normal" font-style="normal" fill="#2a3f5f" font-family='"Liberation Sans", sans-serif' textLength="12.51" lengthAdjust="spacingAndGlyphs">500</text>
<text x="667.70" y="494.51" font-size="8.10" text-anchor="start" font-weight="normal" font-style="normal" fill="#2a3f5f" font-family='"Liberation Sans", sans-serif' textLength="12.51" lengthAdjust="spacingAndGlyphs">400</text>
<text x="667.70" y="502.72" font-size="8.10" text-anchor="start" font-weight="normal" font-style="normal" fill="#2a3f5f" font-family='"Liberation Sans", sans-serif' textLength="12.51" lengthAdjust="spacingAndGlyphs">300</text>
<text x="667.70" y="510.93" font-size="8.10" text-anchor="start" font-weight="normal" font-style="normal" fill="#2a3f5f" font-family='"Liberation Sans", sans-serif' textLength="12.51" lengthAdjust="spacingAndGlyphs">200</text>
<text x="667.70" y="519.14" font-size="8.10" text-anchor="start" font-weight="normal" font-style="normal" fill="#2a3f5f" font-family='"Liberation Sans", sans-serif' textLength="12.51" lengthAdjust="spacingAndGlyphs">100</text>
<text x="667.70" y="527.35" font-size="8.10" text-anchor="start" font-weight="normal" font-style="normal" fill="#2a3f5f" font-family='"Liberation Sans", sans-serif' textLength="4.17" lengthAdjust="spacingAndGlyphs">0</text>
<text x="493.30" y="532.80" font-size="8.10" text-anchor="middle" font-weight="normal" font-style="normal" fill="#2a3f5f" font-family='"Liberation Sans", sans-serif' textLength="8.34" lengthAdjust="spacingAndGlyphs">28</text>
<text x="519.58" y="532.80" font-size="8.10" text-anchor="middle" font-weight="normal" font-style="normal" fill="#2a3f5f" font-family='"Liberation Sans", sans-serif' textLength="8.34" lengthAdjust="spacingAndGlyphs">30</text>
<text x="545.87" y="532.80" font-size="8.10" text-anchor="middle" font-weight="normal" font-style="normal" fill="#2a3f5f" font-family='"Liberation Sans", sans-serif' textLength="8.34" lengthAdjust="spacingAndGlyphs">32</text>
<text x="572.15" y="532.80" font-size="8.10" text-anchor="middle" font-weight="normal" font-style="normal" fill="#2a3f5f" font-family='"Liberation Sans", sans-serif' textLength="8.34" lengthAdjust="spacingAndGlyphs">34</text>
<text x="598.43" y="532.80" font-size="8.10" text-anchor="middle" font-weight="normal" font-style="normal" fill="#2a3f5f" font-family='"Liberation Sans", sans-serif' textLength="8.34" lengthAdjust="spacingAndGlyphs">36</text>
<text x="624.72" y="532.80" font-size="8.10" text-anchor="middle" font-weight="normal" font-style="normal" fill="#2a3f5f" font-family='"Liberation Sans", sans-serif' textLength="8.34" lengthAdjust="spacingAndGlyphs">38</text>
<text x="651.00" y="532.80" font-size="8.10" text-anchor="middle" font-weight="normal" font-style="normal" fill="#2a3f5f" font-family='"Liberation Sans", sans-serif' textLength="8.34" lengthAdjust="spacingAndGlyphs">40</text>
<text x="491.90" y="457.83" font-size="8.10" text-anchor="end" font-weight="normal" font-style="normal" fill="#2a3f5f" font-family='"Liberation Sans", sans-serif' textLength="4.17" lengthAdjust="spacingAndGlyphs">2</text>
<text x="491.90" y="473.37" font-size="8.10" text-anchor="end" font-weight="normal" font-style="normal" fill="#2a3f5f" font-family='"Liberation Sans", sans-serif' textLength="4.17" lengthAdjust="spacingAndGlyphs">1</text>
<text x="491.90" y="488.91" font-size="8.10" text-anchor="end" font-weight="normal" font-style="normal" fill="#2a3f5f" font-family='"Liberation Sans", sans-serif' textLength="4.17" lengthAdjust="spacingAndGlyphs">0</text>
<text x="491.90" y="504.45" font-size="8.10" text-anchor="end" font-weight="normal" font-style="normal" fill="#2a3f5f" font-family='"Liberation Sans", sans-serif' textLength="8.55" lengthAdjust="spacingAndGlyphs">−1</text>
<text x="491.90" y="519.99" font-size="8.10" text-anchor="end" font-weight="normal" font-style="normal" fill="#2a3f5f" font-family='"Liberation Sans", sans-serif' textLength="8.55" lengthAdjust="spacingAndGlyphs">−2</text>
<text x="572.15" y="544.60" font-size="9.25" text-anchor="middle" font-weight="normal" font-style="normal" fill="#2a3f5f" font-family='"Liberation Sans", sans-serif'>Mean Temperature (C)</text>
<text x="0" y="0" transform="translate(471.50,485.95) rotate(-90)" font-size="9.25" text-anchor="middle" font-weight="normal" fill="#2a3f5f" font-family='"Liberation Sans", sans-serif'>Delta Temperature</text>
<text x="0.70" y="572.50" font-size="9.30" text-anchor="start" font-weight="bold" font-style="normal" fill="#2a3f5f" font-family='"Liberation Sans", sans-serif'>M</text>
<rect x="47.30" y="576.60" width="1.00" height="36.20" fill="#1f77b4"/>
<rect x="48.30" y="585.80" width="0.80" height="27.00" fill="#1f77b4"/>
<rect x="49.10" y="598.00" width="1.90" height="14.80" fill="#1f77b4"/>
<rect x="51.00" y="602.00" width="1.10" height="10.80" fill="#1f77b4"/>
<rect x="52.10" y="603.30" width="0.90" height="9.50" fill="#1f77b4"/>
<rect x="53.00" y="609.00" width="0.80" height="3.80" fill="#1f77b4"/>
<rect x="53.90" y="606.00" width="1.20" height="6.80" fill="#1f77b4"/>
<rect x="55.10" y="608.60" width="0.80" height="4.20" fill="#1f77b4"/>
<rect x="55.90" y="611.30" width="1.10" height="1.50" fill="#1f77b4"/>
<rect x="57.00" y="611.00" width="2.00" height="1.80" fill="#1f77b4"/>
<rect x="59.00" y="610.00" width="0.80" height="2.80" fill="#1f77b4"/>
<rect x="59.80" y="607.00" width="1.10" height="5.80" fill="#1f77b4"/>
<rect x="47.3" y="576.6" width="1.2" height="9.5" fill="#ffffff" fill-opacity="0.3"/>
<rect x="162.50" y="618.80" width="1.00" height="18.70" fill="#1f77b4"/>
<rect x="162.50" y="637.50" width="6.25" height="18.30" fill="#1f77b4"/>
<rect x="162.50" y="655.80" width="7.30" height="18.80" fill="#1f77b4"/>
<rect x="162.50" y="674.60" width="36.50" height="18.10" fill="#1f77b4"/>
<rect x="162.50" y="692.70" width="25.40" height="18.80" fill="#1f77b4"/>
<rect x="162.50" y="711.50" width="10.20" height="18.70" fill="#1f77b4"/>
<line x1="39.70" y1="574.70" x2="162.50" y2="574.70" stroke="#7a7a7a" stroke-width="0.70"/>
<line x1="39.70" y1="574.40" x2="39.70" y2="735.60" stroke="#7a7a7a" stroke-width="0.70"/>
<line x1="162.50" y1="574.40" x2="162.50" y2="613.00" stroke="#7a7a7a" stroke-width="0.70"/>
<line x1="39.40" y1="735.50" x2="162.50" y2="735.50" stroke="#7a7a7a" stroke-width="0.70"/>
<line x1="162.50" y1="613.10" x2="200.70" y2="613.10" stroke="#7a7a7a" stroke-width="0.70"/>
<line x1="200.70" y1="612.80" x2="200.70" y2="735.50" stroke="#7a7a7a" stroke-width="0.70"/>
<line x1="162.50" y1="735.30" x2="200.70" y2="735.30" stroke="#7a7a7a" stroke-width="0.70"/>
<line x1="39.40" y1="613.00" x2="162.90" y2="613.00" stroke="#5a5a5a" stroke-width="1.30"/>
<line x1="162.50" y1="613.00" x2="162.50" y2="735.60" stroke="#5a5a5a" stroke-width="1.30"/>
<line x1="45.00" y1="735.50" x2="45.00" y2="737.60" stroke="#333333" stroke-width="0.60"/>
<line x1="45.00" y1="612.00" x2="45.00" y2="614.20" stroke="#333333" stroke-width="0.90"/>
<text x="45.00" y="742.70" font-size="6.00" text-anchor="middle" font-weight="normal" font-style="normal" fill="#141414" font-family='"Liberation Sans", sans-serif' textLength="3.40" lengthAdjust="spacingAndGlyphs">0</text>
<line x1="61.40" y1="735.50" x2="61.40" y2="737.60" stroke="#333333" stroke-width="0.60"/>
<line x1="61.40" y1="612.00" x2="61.40" y2="614.20" stroke="#333333" stroke-width="0.90"/>
<text x="61.40" y="742.70" font-size="6.00" text-anchor="middle" font-weight="normal" font-style="normal" fill="#141414" font-family='"Liberation Sans", sans-serif' textLength="10.30" lengthAdjust="spacingAndGlyphs">200</text>
<line x1="77.40" y1="735.50" x2="77.40" y2="737.60" stroke="#333333" stroke-width="0.60"/>
<line x1="77.40" y1="612.00" x2="77.40" y2="614.20" stroke="#333333" stroke-width="0.90"/>
<text x="77.40" y="742.70" font-size="6.00" text-anchor="middle" font-weight="normal" font-style="normal" fill="#141414" font-family='"Liberation Sans", sans-serif' textLength="10.30" lengthAdjust="spacingAndGlyphs">400</text>
<line x1="93.80" y1="735.50" x2="93.80" y2="737.60" stroke="#333333" stroke-width="0.60"/>
<line x1="93.80" y1="612.00" x2="93.80" y2="614.20" stroke="#333333" stroke-width="0.90"/>
<text x="93.80" y="742.70" font-size="6.00" text-anchor="middle" font-weight="normal" font-style="normal" fill="#141414" font-family='"Liberation Sans", sans-serif' textLength="10.30" lengthAdjust="spacingAndGlyphs">600</text>
<line x1="110.00" y1="735.50" x2="110.00" y2="737.60" stroke="#333333" stroke-width="0.60"/>
<line x1="110.00" y1="612.00" x2="110.00" y2="614.20" stroke="#333333" stroke-width="0.90"/>
<text x="110.00" y="742.70" font-size="6.00" text-anchor="middle" font-weight="normal" font-style="normal" fill="#141414" font-family='"Liberation Sans", sans-serif' textLength="10.30" lengthAdjust="spacingAndGlyphs">800</text>
<line x1="126.30" y1="735.50" x2="126.30" y2="737.60" stroke="#333333" stroke-width="0.60"/>
<line x1="126.30" y1="612.00" x2="126.30" y2="614.20" stroke="#333333" stroke-width="0.90"/>
<text x="126.30" y="742.70" font-size="6.00" text-anchor="middle" font-weight="normal" font-style="normal" fill="#141414" font-family='"Liberation Sans", sans-serif' textLength="13.60" lengthAdjust="spacingAndGlyphs">1000</text>
<line x1="142.40" y1="735.50" x2="142.40" y2="737.60" stroke="#333333" stroke-width="0.60"/>
<line x1="142.40" y1="612.00" x2="142.40" y2="614.20" stroke="#333333" stroke-width="0.90"/>
<text x="142.40" y="742.70" font-size="6.00" text-anchor="middle" font-weight="normal" font-style="normal" fill="#141414" font-family='"Liberation Sans", sans-serif' textLength="13.60" lengthAdjust="spacingAndGlyphs">1200</text>
<line x1="158.50" y1="735.50" x2="158.50" y2="737.60" stroke="#333333" stroke-width="0.60"/>
<line x1="158.50" y1="612.00" x2="158.50" y2="614.20" stroke="#333333" stroke-width="0.90"/>
<text x="158.50" y="742.70" font-size="6.00" text-anchor="middle" font-weight="normal" font-style="normal" fill="#141414" font-family='"Liberation Sans", sans-serif' textLength="13.60" lengthAdjust="spacingAndGlyphs">1400</text>
<line x1="38.20" y1="721.20" x2="39.50" y2="721.20" stroke="#333333" stroke-width="0.60"/>
<line x1="162.50" y1="721.20" x2="164.00" y2="721.20" stroke="#333333" stroke-width="0.60"/>
<text x="37.40" y="723.40" font-size="6.00" text-anchor="end" font-weight="normal" font-style="normal" fill="#141414" font-family='"Liberation Sans", sans-serif'>1</text>
<line x1="38.20" y1="702.60" x2="39.50" y2="702.60" stroke="#333333" stroke-width="0.60"/>
<line x1="162.50" y1="702.60" x2="164.00" y2="702.60" stroke="#333333" stroke-width="0.60"/>
<text x="37.40" y="704.80" font-size="6.00" text-anchor="end" font-weight="normal" font-style="normal" fill="#141414" font-family='"Liberation Sans", sans-serif'>2</text>
<line x1="38.20" y1="684.00" x2="39.50" y2="684.00" stroke="#333333" stroke-width="0.60"/>
<line x1="162.50" y1="684.00" x2="164.00" y2="684.00" stroke="#333333" stroke-width="0.60"/>
<text x="37.40" y="686.20" font-size="6.00" text-anchor="end" font-weight="normal" font-style="normal" fill="#141414" font-family='"Liberation Sans", sans-serif'>3</text>
<line x1="38.20" y1="665.30" x2="39.50" y2="665.30" stroke="#333333" stroke-width="0.60"/>
<line x1="162.50" y1="665.30" x2="164.00" y2="665.30" stroke="#333333" stroke-width="0.60"/>
<text x="37.40" y="667.50" font-size="6.00" text-anchor="end" font-weight="normal" font-style="normal" fill="#141414" font-family='"Liberation Sans", sans-serif'>4</text>
<line x1="38.20" y1="646.70" x2="39.50" y2="646.70" stroke="#333333" stroke-width="0.60"/>
<line x1="162.50" y1="646.70" x2="164.00" y2="646.70" stroke="#333333" stroke-width="0.60"/>
<text x="37.40" y="648.90" font-size="6.00" text-anchor="end" font-weight="normal" font-style="normal" fill="#141414" font-family='"Liberation Sans", sans-serif'>5</text>
<line x1="38.20" y1="628.20" x2="39.50" y2="628.20" stroke="#333333" stroke-width="0.60"/>
<line x1="162.50" y1="628.20" x2="164.00" y2="628.20" stroke="#333333" stroke-width="0.60"/>
<text x="37.40" y="630.40" font-size="6.00" text-anchor="end" font-weight="normal" font-style="normal" fill="#141414" font-family='"Liberation Sans", sans-serif'>6</text>
<line x1="38.20" y1="612.90" x2="39.50" y2="612.90" stroke="#333333" stroke-width="0.60"/>
<text x="37.90" y="615.10" font-size="6.00" text-anchor="end" font-weight="normal" font-style="normal" fill="#141414" font-family='"Liberation Sans", sans-serif' textLength="3.40" lengthAdjust="spacingAndGlyphs">0</text>
<line x1="38.20" y1="599.60" x2="39.50" y2="599.60" stroke="#333333" stroke-width="0.60"/>
<text x="37.90" y="601.80" font-size="6.00" text-anchor="end" font-weight="normal" font-style="normal" fill="#141414" font-family='"Liberation Sans", sans-serif' textLength="6.80" lengthAdjust="spacingAndGlyphs">10</text>
<line x1="38.20" y1="586.40" x2="39.50" y2="586.40" stroke="#333333" stroke-width="0.60"/>
<text x="37.90" y="588.60" font-size="6.00" text-anchor="end" font-weight="normal" font-style="normal" fill="#141414" font-family='"Liberation Sans", sans-serif' textLength="6.80" lengthAdjust="spacingAndGlyphs">20</text>
<line x1="163.50" y1="735.50" x2="163.50" y2="737.60" stroke="#333333" stroke-width="0.60"/>
<line x1="176.50" y1="735.50" x2="176.50" y2="737.60" stroke="#333333" stroke-width="0.60"/>
<text x="176.50" y="742.70" font-size="6.00" text-anchor="middle" font-weight="normal" font-style="normal" fill="#141414" font-family='"Liberation Sans", sans-serif' textLength="6.80" lengthAdjust="spacingAndGlyphs">20</text>
<line x1="189.40" y1="735.50" x2="189.40" y2="737.60" stroke="#333333" stroke-width="0.60"/>
<text x="189.40" y="742.70" font-size="6.00" text-anchor="middle" font-weight="normal" font-style="normal" fill="#141414" font-family='"Liberation Sans", sans-serif' textLength="6.80" lengthAdjust="spacingAndGlyphs">40</text>
<text x="165.00" y="742.70" font-size="6.00" text-anchor="middle" font-weight="normal" font-style="normal" fill="#141414" font-family='"Liberation Sans", sans-serif' textLength="3.40" lengthAdjust="spacingAndGlyphs">0</text>
<text x="100.30" y="753.60" font-size="9.00" text-anchor="middle" font-weight="normal" font-style="normal" fill="#1a1a1a" font-family='"Liberation Sans", sans-serif' textLength="91.00" lengthAdjust="spacingAndGlyphs">Alert Duration (min)</text>
<text x="182.40" y="753.80" font-size="9.00" text-anchor="middle" font-weight="normal" font-style="normal" fill="#1a1a1a" font-family='"Liberation Sans", sans-serif' textLength="26.90" lengthAdjust="spacingAndGlyphs">Count</text>
<text x="0" y="0" transform="translate(29.40,674.50) rotate(-90)" font-size="9.60" text-anchor="middle" font-weight="normal" fill="#1a1a1a" font-family='"Liberation Sans", sans-serif' textLength="55.10" lengthAdjust="spacingAndGlyphs">MEWS Delta</text>
<text x="0" y="0" transform="translate(28.40,593.00) rotate(-90)" font-size="9.60" text-anchor="middle" font-weight="normal" fill="#1a1a1a" font-family='"Liberation Sans", sans-serif' textLength="26.90" lengthAdjust="spacingAndGlyphs">Count</text>
<circle cx="136.70" cy="631.40" r="1.3" fill="#1f77b4"/>
<circle cx="81.70" cy="642.80" r="1.3" fill="#1f77b4"/>
<circle cx="141.40" cy="664.70" r="1.3" fill="#1f77b4"/>
<circle cx="139.20" cy="680.80" r="1.3" fill="#1f77b4"/>
<circle cx="156.00" cy="684.40" r="1.3" fill="#1f77b4"/>
<circle cx="119.00" cy="686.30" r="1.3" fill="#1f77b4"/>
<circle cx="103.50" cy="698.40" r="1.3" fill="#1f77b4"/>
<circle cx="124.00" cy="716.70" r="1.3" fill="#1f77b4"/>
<circle cx="75.60" cy="681.70" r="1.3" fill="#1f77b4"/>
<circle cx="69.50" cy="662.90" r="1.3" fill="#1f77b4"/>
<circle cx="69.50" cy="705.80" r="1.3" fill="#1f77b4"/>
<circle cx="59.80" cy="704.10" r="1.3" fill="#1f77b4"/>
<circle cx="47.00" cy="642.90" r="1.3" fill="#1f77b4"/>
<circle cx="48.50" cy="642.30" r="1.3" fill="#1f77b4"/>
<circle cx="49.60" cy="643.20" r="1.3" fill="#1f77b4"/>
<circle cx="49.90" cy="643.80" r="1.3" fill="#1f77b4"/>
<circle cx="47.60" cy="643.20" r="1.3" fill="#1f77b4"/>
<circle cx="48.20" cy="646.70" r="1.3" fill="#1f77b4"/>
<circle cx="49.60" cy="649.60" r="1.3" fill="#1f77b4"/>
<circle cx="51.10" cy="649.30" r="1.3" fill="#1f77b4"/>
<circle cx="52.30" cy="649.30" r="1.3" fill="#1f77b4"/>
<circle cx="49.30" cy="662.40" r="1.3" fill="#1f77b4"/>
<circle cx="55.50" cy="660.70" r="1.3" fill="#1f77b4"/>
<circle cx="59.90" cy="660.70" r="1.3" fill="#1f77b4"/>
<circle cx="62.20" cy="663.60" r="1.3" fill="#1f77b4"/>
<circle cx="49.10" cy="666.80" r="1.3" fill="#1f77b4"/>
<circle cx="52.00" cy="665.80" r="1.3" fill="#1f77b4"/>
<circle cx="54.90" cy="665.70" r="1.3" fill="#1f77b4"/>
<circle cx="58.90" cy="678.70" r="1.3" fill="#1f77b4"/>
<circle cx="58.60" cy="680.70" r="1.3" fill="#1f77b4"/>
<circle cx="60.30" cy="681.70" r="1.3" fill="#1f77b4"/>
<circle cx="65.10" cy="679.70" r="1.3" fill="#1f77b4"/>
<circle cx="68.00" cy="679.40" r="1.3" fill="#1f77b4"/>
<circle cx="69.30" cy="679.70" r="1.3" fill="#1f77b4"/>
<circle cx="63.70" cy="684.60" r="1.3" fill="#1f77b4"/>
<circle cx="67.80" cy="684.80" r="1.3" fill="#1f77b4"/>
<circle cx="55.80" cy="685.60" r="1.3" fill="#1f77b4"/>
<circle cx="56.80" cy="686.40" r="1.3" fill="#1f77b4"/>
<circle cx="57.80" cy="687.20" r="1.3" fill="#1f77b4"/>
<circle cx="58.90" cy="687.90" r="1.3" fill="#1f77b4"/>
<circle cx="60.10" cy="688.00" r="1.3" fill="#1f77b4"/>
<circle cx="61.00" cy="687.20" r="1.3" fill="#1f77b4"/>
<circle cx="61.50" cy="686.10" r="1.3" fill="#1f77b4"/>
<circle cx="54.40" cy="682.00" r="1.3" fill="#1f77b4"/>
<circle cx="55.30" cy="682.40" r="1.3" fill="#1f77b4"/>
<circle cx="53.90" cy="700.10" r="1.3" fill="#1f77b4"/>
<circle cx="53.50" cy="702.60" r="1.3" fill="#1f77b4"/>
<circle cx="54.70" cy="704.00" r="1.3" fill="#1f77b4"/>
<circle cx="54.70" cy="706.00" r="1.3" fill="#1f77b4"/>
<circle cx="52.00" cy="703.00" r="1.3" fill="#1f77b4"/>
<circle cx="63.80" cy="721.30" r="1.3" fill="#1f77b4"/>
<circle cx="65.50" cy="722.30" r="1.3" fill="#1f77b4"/>
<circle cx="63.30" cy="723.10" r="1.3" fill="#1f77b4"/>
<circle cx="47.60" cy="679.60" r="1.3" fill="#1f77b4"/>
<circle cx="48.50" cy="679.60" r="1.3" fill="#1f77b4"/>
<circle cx="49.40" cy="679.60" r="1.3" fill="#1f77b4"/>
<circle cx="50.30" cy="679.60" r="1.3" fill="#1f77b4"/>
<circle cx="51.20" cy="679.60" r="1.3" fill="#1f77b4"/>
<circle cx="47.60" cy="680.50" r="1.3" fill="#1f77b4"/>
<circle cx="48.50" cy="680.50" r="1.3" fill="#1f77b4"/>
<circle cx="49.40" cy="680.50" r="1.3" fill="#1f77b4"/>
<circle cx="50.30" cy="680.50" r="1.3" fill="#1f77b4"/>
<circle cx="51.20" cy="680.50" r="1.3" fill="#1f77b4"/>
<circle cx="47.60" cy="681.40" r="1.3" fill="#1f77b4"/>
<circle cx="48.50" cy="681.40" r="1.3" fill="#1f77b4"/>
<circle cx="49.40" cy="681.40" r="1.3" fill="#1f77b4"/>
<circle cx="50.30" cy="681.40" r="1.3" fill="#1f77b4"/>
<circle cx="51.20" cy="681.40" r="1.3" fill="#1f77b4"/>
<circle cx="47.60" cy="682.30" r="1.3" fill="#1f77b4"/>
<circle cx="48.50" cy="682.30" r="1.3" fill="#1f77b4"/>
<circle cx="49.40" cy="682.30" r="1.3" fill="#1f77b4"/>
<circle cx="50.30" cy="682.30" r="1.3" fill="#1f77b4"/>
<circle cx="51.20" cy="682.30" r="1.3" fill="#1f77b4"/>
<circle cx="47.60" cy="683.20" r="1.3" fill="#1f77b4"/>
<circle cx="48.50" cy="683.20" r="1.3" fill="#1f77b4"/>
<circle cx="49.40" cy="683.20" r="1.3" fill="#1f77b4"/>
<circle cx="50.30" cy="683.20" r="1.3" fill="#1f77b4"/>
<circle cx="51.20" cy="683.20" r="1.3" fill="#1f77b4"/>
<circle cx="47.60" cy="684.10" r="1.3" fill="#1f77b4"/>
<circle cx="48.50" cy="684.10" r="1.3" fill="#1f77b4"/>
<circle cx="49.40" cy="684.10" r="1.3" fill="#1f77b4"/>
<circle cx="50.30" cy="684.10" r="1.3" fill="#1f77b4"/>
<circle cx="51.20" cy="684.10" r="1.3" fill="#1f77b4"/>
<circle cx="47.60" cy="685.00" r="1.3" fill="#1f77b4"/>
<circle cx="48.50" cy="685.00" r="1.3" fill="#1f77b4"/>
<circle cx="49.40" cy="685.00" r="1.3" fill="#1f77b4"/>
<circle cx="50.30" cy="685.00" r="1.3" fill="#1f77b4"/>
<circle cx="51.20" cy="685.00" r="1.3" fill="#1f77b4"/>
<circle cx="47.60" cy="685.90" r="1.3" fill="#1f77b4"/>
<circle cx="48.50" cy="685.90" r="1.3" fill="#1f77b4"/>
<circle cx="49.40" cy="685.90" r="1.3" fill="#1f77b4"/>
<circle cx="50.30" cy="685.90" r="1.3" fill="#1f77b4"/>
<circle cx="51.20" cy="685.90" r="1.3" fill="#1f77b4"/>
<circle cx="52.00" cy="681.00" r="1.3" fill="#1f77b4"/>
<circle cx="52.90" cy="681.00" r="1.3" fill="#1f77b4"/>
<circle cx="53.80" cy="681.00" r="1.3" fill="#1f77b4"/>
<circle cx="52.00" cy="681.90" r="1.3" fill="#1f77b4"/>
<circle cx="52.90" cy="681.90" r="1.3" fill="#1f77b4"/>
<circle cx="53.80" cy="681.90" r="1.3" fill="#1f77b4"/>
<circle cx="52.00" cy="682.80" r="1.3" fill="#1f77b4"/>
<circle cx="52.90" cy="682.80" r="1.3" fill="#1f77b4"/>
<circle cx="53.80" cy="682.80" r="1.3" fill="#1f77b4"/>
<circle cx="47.80" cy="698.60" r="1.3" fill="#1f77b4"/>
<circle cx="48.70" cy="698.60" r="1.3" fill="#1f77b4"/>
<circle cx="49.60" cy="698.60" r="1.3" fill="#1f77b4"/>
<circle cx="47.80" cy="699.50" r="1.3" fill="#1f77b4"/>
<circle cx="48.70" cy="699.50" r="1.3" fill="#1f77b4"/>
<circle cx="49.60" cy="699.50" r="1.3" fill="#1f77b4"/>
<circle cx="47.80" cy="700.40" r="1.3" fill="#1f77b4"/>
<circle cx="48.70" cy="700.40" r="1.3" fill="#1f77b4"/>
<circle cx="49.60" cy="700.40" r="1.3" fill="#1f77b4"/>
<circle cx="47.80" cy="701.30" r="1.3" fill="#1f77b4"/>
<circle cx="48.70" cy="701.30" r="1.3" fill="#1f77b4"/>
<circle cx="49.60" cy="701.30" r="1.3" fill="#1f77b4"/>
<circle cx="47.80" cy="702.20" r="1.3" fill="#1f77b4"/>
<circle cx="48.70" cy="702.20" r="1.3" fill="#1f77b4"/>
<circle cx="49.60" cy="702.20" r="1.3" fill="#1f77b4"/>
<circle cx="47.80" cy="703.10" r="1.3" fill="#1f77b4"/>
<circle cx="48.70" cy="703.10" r="1.3" fill="#1f77b4"/>
<circle cx="49.60" cy="703.10" r="1.3" fill="#1f77b4"/>
<circle cx="47.80" cy="704.00" r="1.3" fill="#1f77b4"/>
<circle cx="48.70" cy="704.00" r="1.3" fill="#1f77b4"/>
<circle cx="49.60" cy="704.00" r="1.3" fill="#1f77b4"/>
<circle cx="47.80" cy="704.90" r="1.3" fill="#1f77b4"/>
<circle cx="48.70" cy="704.90" r="1.3" fill="#1f77b4"/>
<circle cx="49.60" cy="704.90" r="1.3" fill="#1f77b4"/>
<circle cx="49.80" cy="698.80" r="1.3" fill="#1f77b4"/>
<circle cx="50.70" cy="698.80" r="1.3" fill="#1f77b4"/>
<circle cx="49.80" cy="699.70" r="1.3" fill="#1f77b4"/>
<circle cx="50.70" cy="699.70" r="1.3" fill="#1f77b4"/>
<circle cx="49.80" cy="700.60" r="1.3" fill="#1f77b4"/>
<circle cx="50.70" cy="700.60" r="1.3" fill="#1f77b4"/>
<circle cx="50.45" cy="718.40" r="1.3" fill="#1f77b4"/>
<circle cx="51.35" cy="718.40" r="1.3" fill="#1f77b4"/>
<circle cx="52.25" cy="718.40" r="1.3" fill="#1f77b4"/>
<circle cx="50.05" cy="719.30" r="1.3" fill="#1f77b4"/>
<circle cx="50.95" cy="719.30" r="1.3" fill="#1f77b4"/>
<circle cx="51.85" cy="719.30" r="1.3" fill="#1f77b4"/>
<circle cx="49.64" cy="720.20" r="1.3" fill="#1f77b4"/>
<circle cx="50.54" cy="720.20" r="1.3" fill="#1f77b4"/>
<circle cx="51.44" cy="720.20" r="1.3" fill="#1f77b4"/>
<circle cx="49.24" cy="721.10" r="1.3" fill="#1f77b4"/>
<circle cx="50.14" cy="721.10" r="1.3" fill="#1f77b4"/>
<circle cx="51.04" cy="721.10" r="1.3" fill="#1f77b4"/>
<circle cx="48.83" cy="722.00" r="1.3" fill="#1f77b4"/>
<circle cx="49.73" cy="722.00" r="1.3" fill="#1f77b4"/>
<circle cx="50.63" cy="722.00" r="1.3" fill="#1f77b4"/>
<circle cx="48.43" cy="722.90" r="1.3" fill="#1f77b4"/>
<circle cx="49.33" cy="722.90" r="1.3" fill="#1f77b4"/>
<circle cx="50.23" cy="722.90" r="1.3" fill="#1f77b4"/>
<text x="232.90" y="572.60" font-size="9.30" text-anchor="start" font-weight="bold" font-style="normal" fill="#2a3f5f" font-family='"Liberation Sans", sans-serif'>O</text>
<text x="343.55" y="584.80" font-size="8.90" text-anchor="middle" font-weight="normal" font-style="normal" fill="#2a3f5f" font-family='"Liberation Sans", sans-serif' textLength="93.70" lengthAdjust="spacingAndGlyphs">RR MEWS Contribution</text>
<rect x="269.70" y="590.30" width="139.40" height="145.00" fill="rgb(255,245,240)"/>
<rect x="269.70" y="590.30" width="46.40" height="48.50" fill="rgb(254,233,223)"/>
<rect x="316.10" y="590.30" width="46.80" height="48.50" fill="rgb(255,242,236)"/>
<rect x="362.90" y="590.30" width="46.20" height="48.50" fill="rgb(255,243,238)"/>
<rect x="269.70" y="638.80" width="46.40" height="48.00" fill="rgb(176,18,23)"/>
<rect x="316.10" y="638.80" width="46.80" height="48.00" fill="rgb(254,225,211)"/>
<rect x="362.90" y="638.80" width="46.20" height="48.00" fill="rgb(255,242,236)"/>
<rect x="269.70" y="686.80" width="46.40" height="48.50" fill="rgb(252,193,169)"/>
<rect x="316.10" y="686.80" width="46.80" height="48.50" fill="rgb(255,237,228)"/>
<rect x="362.90" y="686.80" width="46.20" height="48.50" fill="rgb(255,242,236)"/>
<line x1="269.40" y1="735.30" x2="408.60" y2="590.20" stroke="#2a8a2a" stroke-width="1.15"/>
<defs><linearGradient id="gO" x1="0" y1="1" x2="0" y2="0"><stop offset="0.000" stop-color="rgb(255,245,240)"/><stop offset="0.125" stop-color="rgb(254,224,210)"/><stop offset="0.250" stop-color="rgb(252,187,161)"/><stop offset="0.375" stop-color="rgb(252,146,114)"/><stop offset="0.500" stop-color="rgb(251,106,74)"/><stop offset="0.625" stop-color="rgb(239,59,44)"/><stop offset="0.750" stop-color="rgb(203,24,29)"/><stop offset="0.875" stop-color="rgb(165,15,21)"/><stop offset="1.000" stop-color="rgb(103,0,13)"/></linearGradient></defs>
<rect x="411.90" y="590.30" width="14.10" height="145.00" fill="url(#gO)"/>
<text x="428.00" y="593.70" font-size="8.20" text-anchor="start" font-weight="normal" font-style="normal" fill="#2a3f5f" font-family='"Liberation Sans", sans-serif'>100</text>
<text x="428.00" y="665.80" font-size="8.20" text-anchor="start" font-weight="normal" font-style="normal" fill="#2a3f5f" font-family='"Liberation Sans", sans-serif'>50</text>
<text x="428.00" y="737.90" font-size="8.20" text-anchor="start" font-weight="normal" font-style="normal" fill="#2a3f5f" font-family='"Liberation Sans", sans-serif'>0</text>
<text x="268.90" y="617.80" font-size="8.20" text-anchor="end" font-weight="normal" font-style="normal" fill="#2a3f5f" font-family='"Liberation Sans", sans-serif'>3</text>
<text x="268.90" y="665.80" font-size="8.20" text-anchor="end" font-weight="normal" font-style="normal" fill="#2a3f5f" font-family='"Liberation Sans", sans-serif'>2</text>
<text x="268.90" y="713.90" font-size="8.20" text-anchor="end" font-weight="normal" font-style="normal" fill="#2a3f5f" font-family='"Liberation Sans", sans-serif'>1</text>
<text x="292.90" y="743.90" font-size="8.20" text-anchor="middle" font-weight="normal" font-style="normal" fill="#2a3f5f" font-family='"Liberation Sans", sans-serif'>1</text>
<text x="339.50" y="743.90" font-size="8.20" text-anchor="middle" font-weight="normal" font-style="normal" fill="#2a3f5f" font-family='"Liberation Sans", sans-serif'>2</text>
<text x="386.00" y="743.90" font-size="8.20" text-anchor="middle" font-weight="normal" font-style="normal" fill="#2a3f5f" font-family='"Liberation Sans", sans-serif'>3</text>
<text x="0" y="0" transform="translate(253.40,656.40) rotate(-90)" font-size="8.90" text-anchor="middle" font-weight="normal" fill="#2a3f5f" font-family='"Liberation Sans", sans-serif' textLength="85.00" lengthAdjust="spacingAndGlyphs">Device #1 RR MEWS</text>
<text x="340.00" y="757.20" font-size="8.90" text-anchor="middle" font-weight="normal" font-style="normal" fill="#2a3f5f" font-family='"Liberation Sans", sans-serif' textLength="72.20" lengthAdjust="spacingAndGlyphs">Manual RR MEWS</text>
<text x="466.80" y="575.00" font-size="9.30" text-anchor="start" font-weight="bold" font-style="normal" fill="#2a3f5f" font-family='"Liberation Sans", sans-serif'>P</text>
<text x="586.40" y="584.80" font-size="8.90" text-anchor="middle" font-weight="normal" font-style="normal" fill="#2a3f5f" font-family='"Liberation Sans", sans-serif' textLength="92.80" lengthAdjust="spacingAndGlyphs">HR MEWS contribution</text>
<rect x="502.60" y="590.30" width="139.50" height="145.00" fill="rgb(255,245,240)"/>
<rect x="502.60" y="590.30" width="46.50" height="48.30" fill="rgb(255,237,228)"/>
<rect x="549.10" y="590.30" width="46.90" height="48.30" fill="rgb(255,237,228)"/>
<rect x="596.00" y="590.30" width="46.10" height="48.30" fill="rgb(255,242,236)"/>
<rect x="502.60" y="638.60" width="46.50" height="48.10" fill="rgb(254,228,216)"/>
<rect x="549.10" y="638.60" width="46.90" height="48.10" fill="rgb(254,223,208)"/>
<rect x="596.00" y="638.60" width="46.10" height="48.10" fill="rgb(255,242,236)"/>
<rect x="502.60" y="686.70" width="46.50" height="48.60" fill="rgb(255,242,236)"/>
<rect x="549.10" y="686.70" width="46.90" height="48.60" fill="rgb(255,242,236)"/>
<rect x="596.00" y="686.70" width="46.10" height="48.60" fill="rgb(255,242,236)"/>
<line x1="502.30" y1="735.30" x2="641.60" y2="590.20" stroke="#2a8a2a" stroke-width="1.15"/>
<defs><linearGradient id="gP" x1="0" y1="1" x2="0" y2="0"><stop offset="0.000" stop-color="rgb(255,245,240)"/><stop offset="0.125" stop-color="rgb(254,224,210)"/><stop offset="0.250" stop-color="rgb(252,187,161)"/><stop offset="0.375" stop-color="rgb(252,146,114)"/><stop offset="0.500" stop-color="rgb(251,106,74)"/><stop offset="0.625" stop-color="rgb(239,59,44)"/><stop offset="0.750" stop-color="rgb(203,24,29)"/><stop offset="0.875" stop-color="rgb(165,15,21)"/><stop offset="1.000" stop-color="rgb(103,0,13)"/></linearGradient></defs>
<rect x="646.90" y="590.30" width="13.60" height="145.00" fill="url(#gP)"/>
<text x="662.50" y="593.70" font-size="8.20" text-anchor="start" font-weight="normal" font-style="normal" fill="#2a3f5f" font-family='"Liberation Sans", sans-serif'>100</text>
<text x="662.50" y="665.80" font-size="8.20" text-anchor="start" font-weight="normal" font-style="normal" fill="#2a3f5f" font-family='"Liberation Sans", sans-serif'>50</text>
<text x="662.50" y="737.90" font-size="8.20" text-anchor="start" font-weight="normal" font-style="normal" fill="#2a3f5f" font-family='"Liberation Sans", sans-serif'>0</text>
<text x="502.20" y="617.80" font-size="8.20" text-anchor="end" font-weight="normal" font-style="normal" fill="#2a3f5f" font-family='"Liberation Sans", sans-serif'>3</text>
<text x="502.20" y="665.80" font-size="8.20" text-anchor="end" font-weight="normal" font-style="normal" fill="#2a3f5f" font-family='"Liberation Sans", sans-serif'>2</text>
<text x="502.20" y="713.90" font-size="8.20" text-anchor="end" font-weight="normal" font-style="normal" fill="#2a3f5f" font-family='"Liberation Sans", sans-serif'>1</text>
<text x="525.85" y="743.90" font-size="8.20" text-anchor="middle" font-weight="normal" font-style="normal" fill="#2a3f5f" font-family='"Liberation Sans", sans-serif'>1</text>
<text x="572.55" y="743.90" font-size="8.20" text-anchor="middle" font-weight="normal" font-style="normal" fill="#2a3f5f" font-family='"Liberation Sans", sans-serif'>2</text>
<text x="619.05" y="743.90" font-size="8.20" text-anchor="middle" font-weight="normal" font-style="normal" fill="#2a3f5f" font-family='"Liberation Sans", sans-serif'>3</text>
<text x="0" y="0" transform="translate(486.60,656.40) rotate(-90)" font-size="8.90" text-anchor="middle" font-weight="normal" fill="#2a3f5f" font-family='"Liberation Sans", sans-serif' textLength="85.00" lengthAdjust="spacingAndGlyphs">Device #1 HR MEWS</text>
<text x="575.40" y="757.20" font-size="8.90" text-anchor="middle" font-weight="normal" font-style="normal" fill="#2a3f5f" font-family='"Liberation Sans", sans-serif' textLength="73.00" lengthAdjust="spacingAndGlyphs">Manual HR MEWS</text>
</svg>
</body></html>
